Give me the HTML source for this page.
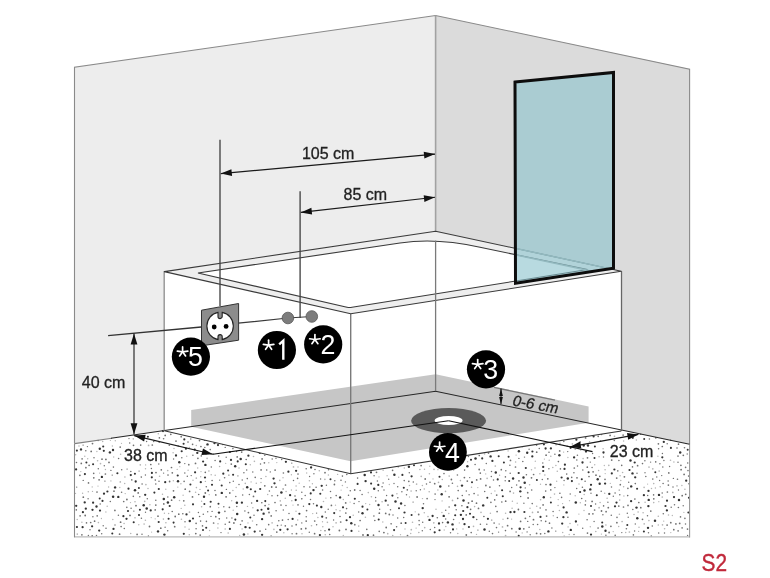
<!DOCTYPE html>
<html><head><meta charset="utf-8"><style>
html,body{margin:0;padding:0;background:#fff;overflow:hidden;}
svg{display:block;will-change:transform;font-family:"Liberation Sans",sans-serif;}
</style></head><body>
<svg width="770" height="578" viewBox="0 0 770 578">
<polygon points="74.5,67.3 435.6,15.5 435.6,391.2 74.5,443.6" fill="#ededed"/>
<polygon points="435.6,15.5 689.6,69.1 689.6,444.2 435.6,391.2" fill="#dbdbdb"/>
<polyline points="74.5,443.6 74.5,67.3 435.6,15.5 689.6,69.1 689.6,444.2" fill="none" stroke="#8a8a8a" stroke-width="1.1"/>
<line x1="435.6" y1="15.5" x2="435.6" y2="231.2" stroke="#a2a2a2" stroke-width="1.6"/>
<polygon points="74.5,443.6 435.6,391.2 689.6,444.2 689.6,536.9 74.5,536.9" fill="#fff"/>
<circle cx="387.1" cy="475.8" r="0.71" fill="#b4b4b4"/><circle cx="188.8" cy="464.7" r="0.85" fill="#707070"/><circle cx="461.9" cy="505.8" r="0.77" fill="#707070"/><circle cx="131.1" cy="508.2" r="0.80" fill="#707070"/><circle cx="678.1" cy="530.9" r="0.81" fill="#707070"/><circle cx="476.7" cy="479.9" r="0.87" fill="#707070"/><circle cx="94.0" cy="457.7" r="0.77" fill="#707070"/><circle cx="345.8" cy="513.0" r="0.87" fill="#707070"/><circle cx="394.0" cy="483.5" r="0.70" fill="#707070"/><circle cx="382.1" cy="486.7" r="0.76" fill="#707070"/><circle cx="687.6" cy="535.4" r="0.70" fill="#707070"/><circle cx="591.0" cy="493.3" r="0.71" fill="#707070"/><circle cx="545.6" cy="448.5" r="1.13" fill="#333"/><circle cx="594.9" cy="446.4" r="1.00" fill="#333"/><circle cx="663.3" cy="513.7" r="0.80" fill="#707070"/><circle cx="677.0" cy="448.0" r="0.82" fill="#707070"/><circle cx="120.3" cy="481.9" r="0.84" fill="#b4b4b4"/><circle cx="129.0" cy="438.6" r="0.71" fill="#707070"/><circle cx="667.0" cy="500.7" r="1.10" fill="#333"/><circle cx="192.5" cy="496.9" r="0.90" fill="#707070"/><circle cx="155.8" cy="484.0" r="0.78" fill="#707070"/><circle cx="671.2" cy="507.3" r="0.77" fill="#707070"/><circle cx="262.1" cy="519.2" r="1.16" fill="#333"/><circle cx="204.8" cy="447.6" r="0.74" fill="#707070"/><circle cx="599.7" cy="483.7" r="1.18" fill="#333"/><circle cx="137.1" cy="534.4" r="0.85" fill="#707070"/><circle cx="130.8" cy="475.1" r="1.13" fill="#333"/><circle cx="224.6" cy="477.8" r="0.82" fill="#707070"/><circle cx="663.9" cy="460.6" r="0.73" fill="#707070"/><circle cx="428.0" cy="516.5" r="0.84" fill="#b4b4b4"/><circle cx="632.8" cy="509.4" r="0.75" fill="#707070"/><circle cx="529.1" cy="527.3" r="0.77" fill="#707070"/><circle cx="196.1" cy="528.7" r="0.78" fill="#707070"/><circle cx="616.7" cy="478.1" r="0.90" fill="#707070"/><circle cx="99.2" cy="530.6" r="1.11" fill="#333"/><circle cx="221.8" cy="492.9" r="1.21" fill="#333"/><circle cx="233.2" cy="510.3" r="0.70" fill="#b4b4b4"/><circle cx="183.1" cy="495.2" r="0.68" fill="#b4b4b4"/><circle cx="418.7" cy="514.5" r="0.90" fill="#707070"/><circle cx="183.6" cy="443.8" r="1.04" fill="#333"/><circle cx="297.7" cy="520.1" r="0.77" fill="#b4b4b4"/><circle cx="677.0" cy="485.9" r="0.80" fill="#b4b4b4"/><circle cx="499.6" cy="475.3" r="0.72" fill="#b4b4b4"/><circle cx="86.5" cy="522.9" r="0.81" fill="#707070"/><circle cx="505.5" cy="530.6" r="0.79" fill="#707070"/><circle cx="88.5" cy="482.9" r="0.84" fill="#707070"/><circle cx="371.4" cy="496.7" r="0.82" fill="#b4b4b4"/><circle cx="271.1" cy="535.9" r="0.71" fill="#707070"/><circle cx="121.7" cy="469.7" r="0.76" fill="#707070"/><circle cx="527.7" cy="521.4" r="0.72" fill="#707070"/><circle cx="527.7" cy="492.7" r="0.85" fill="#707070"/><circle cx="562.2" cy="523.6" r="1.15" fill="#333"/><circle cx="291.4" cy="490.0" r="0.72" fill="#b4b4b4"/><circle cx="628.2" cy="517.2" r="0.71" fill="#707070"/><circle cx="331.4" cy="505.4" r="0.85" fill="#707070"/><circle cx="605.2" cy="473.6" r="0.67" fill="#b4b4b4"/><circle cx="433.0" cy="478.9" r="0.67" fill="#b4b4b4"/><circle cx="124.7" cy="483.4" r="0.75" fill="#b4b4b4"/><circle cx="684.9" cy="518.4" r="0.79" fill="#707070"/><circle cx="522.3" cy="446.7" r="0.72" fill="#b4b4b4"/><circle cx="526.4" cy="474.8" r="0.80" fill="#707070"/><circle cx="126.9" cy="499.5" r="0.89" fill="#707070"/><circle cx="93.8" cy="477.8" r="0.86" fill="#707070"/><circle cx="503.9" cy="462.6" r="1.02" fill="#333"/><circle cx="452.5" cy="524.4" r="1.22" fill="#333"/><circle cx="260.2" cy="489.0" r="1.11" fill="#333"/><circle cx="631.2" cy="486.4" r="1.20" fill="#333"/><circle cx="346.6" cy="520.2" r="1.07" fill="#333"/><circle cx="276.1" cy="487.2" r="0.84" fill="#707070"/><circle cx="197.3" cy="452.9" r="1.16" fill="#333"/><circle cx="570.0" cy="523.5" r="0.82" fill="#b4b4b4"/><circle cx="589.1" cy="513.9" r="0.89" fill="#707070"/><circle cx="511.8" cy="528.7" r="0.89" fill="#707070"/><circle cx="459.4" cy="462.1" r="0.82" fill="#707070"/><circle cx="269.0" cy="512.5" r="0.88" fill="#707070"/><circle cx="678.0" cy="456.1" r="0.84" fill="#707070"/><circle cx="510.2" cy="473.3" r="0.76" fill="#707070"/><circle cx="265.1" cy="505.6" r="0.90" fill="#707070"/><circle cx="462.0" cy="485.6" r="1.18" fill="#333"/><circle cx="570.8" cy="529.9" r="1.18" fill="#333"/><circle cx="82.1" cy="458.9" r="0.78" fill="#707070"/><circle cx="452.5" cy="500.4" r="0.85" fill="#b4b4b4"/><circle cx="316.9" cy="505.6" r="1.06" fill="#333"/><circle cx="647.7" cy="495.5" r="0.75" fill="#707070"/><circle cx="459.3" cy="522.9" r="0.69" fill="#b4b4b4"/><circle cx="306.7" cy="473.0" r="0.68" fill="#b4b4b4"/><circle cx="615.0" cy="506.3" r="1.11" fill="#333"/><circle cx="518.4" cy="509.5" r="0.88" fill="#707070"/><circle cx="469.1" cy="494.8" r="0.72" fill="#707070"/><circle cx="206.4" cy="521.4" r="0.80" fill="#707070"/><circle cx="404.9" cy="505.5" r="0.79" fill="#707070"/><circle cx="272.1" cy="522.9" r="0.80" fill="#b4b4b4"/><circle cx="600.5" cy="440.9" r="0.75" fill="#707070"/><circle cx="413.1" cy="502.2" r="0.83" fill="#b4b4b4"/><circle cx="281.0" cy="505.0" r="0.85" fill="#707070"/><circle cx="392.4" cy="495.6" r="1.10" fill="#333"/><circle cx="655.7" cy="461.9" r="0.82" fill="#707070"/><circle cx="211.3" cy="466.9" r="0.76" fill="#707070"/><circle cx="253.5" cy="496.4" r="0.86" fill="#707070"/><circle cx="467.4" cy="466.3" r="1.20" fill="#333"/><circle cx="593.1" cy="471.8" r="0.85" fill="#707070"/><circle cx="594.1" cy="521.5" r="0.74" fill="#707070"/><circle cx="203.3" cy="514.2" r="0.78" fill="#707070"/><circle cx="669.6" cy="466.5" r="0.74" fill="#707070"/><circle cx="321.3" cy="507.0" r="1.18" fill="#333"/><circle cx="662.5" cy="524.8" r="0.84" fill="#b4b4b4"/><circle cx="240.7" cy="459.1" r="1.24" fill="#333"/><circle cx="575.9" cy="521.5" r="1.16" fill="#333"/><circle cx="193.0" cy="480.2" r="0.72" fill="#b4b4b4"/><circle cx="293.5" cy="480.5" r="0.73" fill="#707070"/><circle cx="139.8" cy="496.7" r="0.73" fill="#707070"/><circle cx="150.8" cy="464.5" r="0.85" fill="#707070"/><circle cx="200.8" cy="482.2" r="1.13" fill="#333"/><circle cx="597.7" cy="479.3" r="1.20" fill="#333"/><circle cx="530.0" cy="508.3" r="0.76" fill="#b4b4b4"/><circle cx="629.3" cy="436.1" r="1.08" fill="#333"/><circle cx="268.7" cy="524.7" r="0.83" fill="#707070"/><circle cx="209.3" cy="535.8" r="0.67" fill="#b4b4b4"/><circle cx="586.0" cy="451.6" r="1.16" fill="#333"/><circle cx="322.6" cy="490.0" r="0.77" fill="#707070"/><circle cx="494.1" cy="523.1" r="0.83" fill="#707070"/><circle cx="385.7" cy="500.7" r="1.16" fill="#333"/><circle cx="384.0" cy="490.1" r="0.73" fill="#707070"/><circle cx="414.0" cy="465.2" r="1.01" fill="#333"/><circle cx="591.0" cy="534.6" r="1.12" fill="#333"/><circle cx="113.5" cy="528.9" r="1.13" fill="#333"/><circle cx="359.0" cy="501.6" r="0.72" fill="#707070"/><circle cx="276.0" cy="458.2" r="0.71" fill="#707070"/><circle cx="505.6" cy="513.3" r="0.79" fill="#b4b4b4"/><circle cx="186.7" cy="456.3" r="0.71" fill="#b4b4b4"/><circle cx="529.1" cy="449.2" r="0.72" fill="#707070"/><circle cx="623.5" cy="507.0" r="0.85" fill="#707070"/><circle cx="443.4" cy="463.6" r="1.16" fill="#333"/><circle cx="678.4" cy="507.5" r="0.81" fill="#707070"/><circle cx="233.9" cy="523.0" r="0.88" fill="#707070"/><circle cx="532.2" cy="503.6" r="0.79" fill="#707070"/><circle cx="575.3" cy="449.2" r="0.85" fill="#b4b4b4"/><circle cx="501.8" cy="502.0" r="0.83" fill="#707070"/><circle cx="467.3" cy="481.1" r="0.88" fill="#707070"/><circle cx="217.9" cy="527.9" r="0.76" fill="#b4b4b4"/><circle cx="480.3" cy="473.2" r="0.83" fill="#707070"/><circle cx="688.9" cy="483.8" r="0.78" fill="#707070"/><circle cx="505.7" cy="501.2" r="0.87" fill="#707070"/><circle cx="232.9" cy="448.6" r="0.80" fill="#707070"/><circle cx="229.4" cy="522.2" r="0.86" fill="#707070"/><circle cx="668.8" cy="472.9" r="0.87" fill="#707070"/><circle cx="442.1" cy="500.9" r="0.67" fill="#b4b4b4"/><circle cx="103.2" cy="525.8" r="0.72" fill="#707070"/><circle cx="173.6" cy="458.9" r="0.73" fill="#707070"/><circle cx="179.3" cy="462.3" r="1.22" fill="#333"/><circle cx="398.7" cy="477.3" r="0.70" fill="#b4b4b4"/><circle cx="249.4" cy="494.6" r="0.76" fill="#707070"/><circle cx="171.6" cy="500.2" r="0.86" fill="#707070"/><circle cx="314.7" cy="521.0" r="0.85" fill="#707070"/><circle cx="682.1" cy="527.9" r="0.81" fill="#707070"/><circle cx="120.6" cy="522.2" r="0.89" fill="#707070"/><circle cx="396.6" cy="526.8" r="0.81" fill="#707070"/><circle cx="518.9" cy="458.4" r="0.70" fill="#707070"/><circle cx="347.2" cy="487.5" r="0.75" fill="#b4b4b4"/><circle cx="552.8" cy="467.5" r="0.80" fill="#b4b4b4"/><circle cx="687.5" cy="529.1" r="0.85" fill="#707070"/><circle cx="145.4" cy="520.3" r="0.80" fill="#b4b4b4"/><circle cx="556.7" cy="481.2" r="0.69" fill="#b4b4b4"/><circle cx="495.8" cy="472.5" r="1.20" fill="#333"/><circle cx="438.5" cy="482.4" r="0.82" fill="#b4b4b4"/><circle cx="228.2" cy="533.0" r="0.83" fill="#b4b4b4"/><circle cx="637.3" cy="518.3" r="1.22" fill="#333"/><circle cx="241.7" cy="452.1" r="0.86" fill="#707070"/><circle cx="128.5" cy="488.7" r="1.10" fill="#333"/><circle cx="413.3" cy="482.1" r="0.77" fill="#707070"/><circle cx="204.7" cy="440.2" r="0.88" fill="#707070"/><circle cx="532.5" cy="512.4" r="0.84" fill="#b4b4b4"/><circle cx="571.9" cy="481.1" r="1.08" fill="#333"/><circle cx="572.4" cy="443.9" r="0.85" fill="#b4b4b4"/><circle cx="476.5" cy="534.4" r="0.69" fill="#b4b4b4"/><circle cx="275.1" cy="470.1" r="0.90" fill="#707070"/><circle cx="533.2" cy="524.4" r="0.77" fill="#707070"/><circle cx="135.0" cy="517.8" r="0.83" fill="#b4b4b4"/><circle cx="206.3" cy="486.7" r="0.78" fill="#707070"/><circle cx="520.3" cy="491.3" r="1.17" fill="#333"/><circle cx="295.0" cy="496.0" r="0.81" fill="#707070"/><circle cx="639.0" cy="527.2" r="0.74" fill="#b4b4b4"/><circle cx="648.9" cy="520.6" r="0.78" fill="#b4b4b4"/><circle cx="195.1" cy="472.3" r="1.09" fill="#333"/><circle cx="564.5" cy="468.9" r="1.11" fill="#333"/><circle cx="588.6" cy="472.2" r="1.04" fill="#333"/><circle cx="183.8" cy="500.8" r="0.86" fill="#707070"/><circle cx="89.1" cy="465.3" r="0.88" fill="#707070"/><circle cx="409.3" cy="472.8" r="0.76" fill="#707070"/><circle cx="668.4" cy="485.1" r="0.87" fill="#707070"/><circle cx="163.8" cy="498.9" r="1.25" fill="#333"/><circle cx="210.7" cy="501.7" r="1.07" fill="#333"/><circle cx="395.5" cy="501.6" r="1.23" fill="#333"/><circle cx="582.4" cy="487.3" r="0.80" fill="#707070"/><circle cx="599.1" cy="507.7" r="0.85" fill="#b4b4b4"/><circle cx="587.1" cy="519.7" r="0.80" fill="#707070"/><circle cx="663.1" cy="483.5" r="0.80" fill="#707070"/><circle cx="396.9" cy="493.7" r="0.79" fill="#b4b4b4"/><circle cx="567.7" cy="451.6" r="0.72" fill="#707070"/><circle cx="530.2" cy="534.7" r="0.71" fill="#707070"/><circle cx="254.7" cy="531.6" r="1.11" fill="#333"/><circle cx="145.9" cy="484.6" r="0.84" fill="#b4b4b4"/><circle cx="113.7" cy="457.0" r="0.66" fill="#b4b4b4"/><circle cx="433.8" cy="522.8" r="0.85" fill="#b4b4b4"/><circle cx="266.7" cy="470.0" r="0.79" fill="#707070"/><circle cx="576.8" cy="460.0" r="0.75" fill="#707070"/><circle cx="235.3" cy="519.6" r="1.04" fill="#333"/><circle cx="636.4" cy="439.9" r="0.75" fill="#b4b4b4"/><circle cx="411.3" cy="529.7" r="0.84" fill="#b4b4b4"/><circle cx="106.0" cy="528.3" r="0.81" fill="#707070"/><circle cx="567.2" cy="446.2" r="0.71" fill="#707070"/><circle cx="243.9" cy="534.6" r="1.25" fill="#333"/><circle cx="303.5" cy="506.3" r="0.71" fill="#707070"/><circle cx="513.1" cy="478.5" r="1.19" fill="#333"/><circle cx="608.8" cy="465.4" r="0.82" fill="#b4b4b4"/><circle cx="466.3" cy="535.0" r="0.88" fill="#707070"/><circle cx="239.0" cy="468.0" r="0.76" fill="#b4b4b4"/><circle cx="167.9" cy="502.5" r="1.24" fill="#333"/><circle cx="76.3" cy="509.9" r="0.81" fill="#707070"/><circle cx="594.6" cy="510.0" r="0.86" fill="#707070"/><circle cx="661.7" cy="475.6" r="0.72" fill="#707070"/><circle cx="601.5" cy="434.3" r="0.84" fill="#707070"/><circle cx="559.7" cy="450.9" r="0.87" fill="#707070"/><circle cx="408.9" cy="466.7" r="1.22" fill="#333"/><circle cx="172.2" cy="511.5" r="0.79" fill="#707070"/><circle cx="362.1" cy="494.4" r="0.76" fill="#707070"/><circle cx="296.2" cy="490.3" r="0.82" fill="#b4b4b4"/><circle cx="358.8" cy="531.2" r="0.69" fill="#b4b4b4"/><circle cx="83.1" cy="445.1" r="0.71" fill="#707070"/><circle cx="81.9" cy="534.8" r="0.84" fill="#707070"/><circle cx="306.2" cy="468.8" r="0.81" fill="#707070"/><circle cx="316.1" cy="487.3" r="0.82" fill="#707070"/><circle cx="655.3" cy="472.2" r="1.01" fill="#333"/><circle cx="491.3" cy="493.4" r="0.74" fill="#b4b4b4"/><circle cx="185.9" cy="448.7" r="1.10" fill="#333"/><circle cx="589.0" cy="476.5" r="0.84" fill="#707070"/><circle cx="389.3" cy="484.5" r="0.66" fill="#b4b4b4"/><circle cx="546.0" cy="509.9" r="0.78" fill="#707070"/><circle cx="480.6" cy="478.9" r="0.88" fill="#707070"/><circle cx="285.5" cy="485.0" r="0.85" fill="#707070"/><circle cx="140.7" cy="445.1" r="0.84" fill="#707070"/><circle cx="388.0" cy="505.1" r="0.81" fill="#707070"/><circle cx="581.8" cy="479.3" r="1.03" fill="#333"/><circle cx="629.5" cy="470.0" r="1.07" fill="#333"/><circle cx="291.8" cy="463.1" r="0.72" fill="#707070"/><circle cx="162.5" cy="494.2" r="0.77" fill="#b4b4b4"/><circle cx="680.9" cy="465.3" r="0.86" fill="#707070"/><circle cx="514.4" cy="512.0" r="1.16" fill="#333"/><circle cx="429.2" cy="491.8" r="0.81" fill="#b4b4b4"/><circle cx="277.5" cy="525.6" r="0.82" fill="#707070"/><circle cx="151.6" cy="532.1" r="0.66" fill="#b4b4b4"/><circle cx="158.7" cy="522.0" r="1.08" fill="#333"/><circle cx="633.4" cy="534.9" r="0.81" fill="#707070"/><circle cx="577.0" cy="477.8" r="0.88" fill="#707070"/><circle cx="150.7" cy="510.4" r="1.11" fill="#333"/><circle cx="252.5" cy="521.0" r="0.75" fill="#b4b4b4"/><circle cx="223.3" cy="473.7" r="1.10" fill="#333"/><circle cx="487.3" cy="497.7" r="1.00" fill="#333"/><circle cx="309.6" cy="476.4" r="0.73" fill="#707070"/><circle cx="197.9" cy="458.3" r="0.87" fill="#707070"/><circle cx="458.2" cy="490.6" r="0.82" fill="#707070"/><circle cx="540.6" cy="499.8" r="0.77" fill="#b4b4b4"/><circle cx="373.5" cy="535.2" r="0.85" fill="#707070"/><circle cx="422.7" cy="522.2" r="0.75" fill="#707070"/><circle cx="398.2" cy="466.7" r="0.81" fill="#707070"/><circle cx="340.7" cy="522.0" r="0.86" fill="#707070"/><circle cx="520.6" cy="521.4" r="0.84" fill="#707070"/><circle cx="107.4" cy="491.5" r="1.11" fill="#333"/><circle cx="634.6" cy="531.1" r="0.74" fill="#707070"/><circle cx="483.9" cy="516.5" r="0.83" fill="#707070"/><circle cx="136.0" cy="505.7" r="0.89" fill="#707070"/><circle cx="151.4" cy="468.5" r="0.74" fill="#707070"/><circle cx="94.6" cy="521.2" r="0.86" fill="#707070"/><circle cx="264.4" cy="462.8" r="0.88" fill="#707070"/><circle cx="648.5" cy="532.7" r="0.72" fill="#707070"/><circle cx="256.7" cy="524.7" r="0.82" fill="#707070"/><circle cx="589.6" cy="441.7" r="0.68" fill="#b4b4b4"/><circle cx="615.2" cy="535.3" r="0.83" fill="#707070"/><circle cx="193.0" cy="518.5" r="1.08" fill="#333"/><circle cx="502.5" cy="526.9" r="0.85" fill="#b4b4b4"/><circle cx="483.2" cy="505.4" r="1.22" fill="#333"/><circle cx="304.0" cy="486.7" r="0.82" fill="#707070"/><circle cx="644.1" cy="487.4" r="0.80" fill="#b4b4b4"/><circle cx="245.3" cy="483.4" r="0.79" fill="#b4b4b4"/><circle cx="130.7" cy="533.5" r="0.78" fill="#b4b4b4"/><circle cx="229.4" cy="507.3" r="0.87" fill="#707070"/><circle cx="246.7" cy="470.0" r="0.75" fill="#707070"/><circle cx="189.8" cy="521.0" r="1.21" fill="#333"/><circle cx="311.5" cy="525.7" r="0.80" fill="#b4b4b4"/><circle cx="416.6" cy="484.2" r="0.83" fill="#b4b4b4"/><circle cx="296.1" cy="486.1" r="0.77" fill="#b4b4b4"/><circle cx="555.9" cy="465.4" r="0.76" fill="#b4b4b4"/><circle cx="385.7" cy="513.4" r="0.87" fill="#707070"/><circle cx="495.3" cy="466.0" r="0.84" fill="#b4b4b4"/><circle cx="345.7" cy="502.9" r="0.86" fill="#707070"/><circle cx="558.1" cy="505.5" r="0.80" fill="#b4b4b4"/><circle cx="220.2" cy="461.4" r="1.06" fill="#333"/><circle cx="211.2" cy="474.7" r="0.75" fill="#b4b4b4"/><circle cx="441.7" cy="494.3" r="1.22" fill="#333"/><circle cx="86.4" cy="462.4" r="1.01" fill="#333"/><circle cx="236.8" cy="506.6" r="0.76" fill="#707070"/><circle cx="424.5" cy="469.3" r="0.72" fill="#b4b4b4"/><circle cx="165.2" cy="435.4" r="0.88" fill="#707070"/><circle cx="456.6" cy="466.7" r="1.04" fill="#333"/><circle cx="237.9" cy="475.9" r="0.83" fill="#b4b4b4"/><circle cx="173.5" cy="490.8" r="0.89" fill="#707070"/><circle cx="585.3" cy="504.9" r="0.83" fill="#707070"/><circle cx="113.0" cy="450.0" r="1.19" fill="#333"/><circle cx="375.8" cy="501.1" r="0.73" fill="#707070"/><circle cx="354.8" cy="498.8" r="1.06" fill="#333"/><circle cx="96.5" cy="535.4" r="0.72" fill="#707070"/><circle cx="543.8" cy="497.2" r="1.19" fill="#333"/><circle cx="358.7" cy="526.1" r="0.82" fill="#b4b4b4"/><circle cx="677.5" cy="479.2" r="0.82" fill="#707070"/><circle cx="99.8" cy="448.8" r="1.20" fill="#333"/><circle cx="286.1" cy="491.4" r="0.77" fill="#b4b4b4"/><circle cx="316.6" cy="513.1" r="0.71" fill="#707070"/><circle cx="309.3" cy="504.1" r="1.09" fill="#333"/><circle cx="188.1" cy="470.2" r="0.72" fill="#b4b4b4"/><circle cx="207.1" cy="458.3" r="0.84" fill="#b4b4b4"/><circle cx="264.8" cy="455.3" r="0.79" fill="#707070"/><circle cx="684.9" cy="489.2" r="0.78" fill="#b4b4b4"/><circle cx="316.6" cy="524.8" r="0.75" fill="#707070"/><circle cx="126.5" cy="518.8" r="1.14" fill="#333"/><circle cx="275.0" cy="502.5" r="0.84" fill="#707070"/><circle cx="520.6" cy="487.3" r="1.11" fill="#333"/><circle cx="422.7" cy="508.1" r="1.17" fill="#333"/><circle cx="486.8" cy="524.2" r="0.76" fill="#707070"/><circle cx="208.1" cy="490.6" r="1.01" fill="#333"/><circle cx="484.5" cy="529.5" r="1.24" fill="#333"/><circle cx="112.4" cy="446.0" r="0.74" fill="#b4b4b4"/><circle cx="276.8" cy="462.6" r="0.68" fill="#b4b4b4"/><circle cx="177.8" cy="487.1" r="0.69" fill="#b4b4b4"/><circle cx="168.0" cy="475.1" r="0.81" fill="#707070"/><circle cx="505.8" cy="470.8" r="0.74" fill="#707070"/><circle cx="109.0" cy="462.4" r="0.90" fill="#707070"/><circle cx="622.6" cy="472.6" r="0.77" fill="#b4b4b4"/><circle cx="236.2" cy="487.5" r="0.70" fill="#b4b4b4"/><circle cx="453.0" cy="529.4" r="1.06" fill="#333"/><circle cx="298.0" cy="474.1" r="0.82" fill="#707070"/><circle cx="653.7" cy="502.6" r="0.79" fill="#b4b4b4"/><circle cx="460.4" cy="480.6" r="0.78" fill="#b4b4b4"/><circle cx="244.9" cy="511.1" r="0.74" fill="#707070"/><circle cx="158.8" cy="464.0" r="0.73" fill="#707070"/><circle cx="76.1" cy="469.4" r="1.13" fill="#333"/><circle cx="378.3" cy="484.9" r="1.12" fill="#333"/><circle cx="288.2" cy="519.4" r="0.75" fill="#707070"/><circle cx="267.7" cy="494.5" r="0.75" fill="#b4b4b4"/><circle cx="502.1" cy="490.2" r="1.03" fill="#333"/><circle cx="666.9" cy="510.4" r="1.15" fill="#333"/><circle cx="173.3" cy="480.8" r="0.68" fill="#b4b4b4"/><circle cx="376.5" cy="472.3" r="0.87" fill="#707070"/><circle cx="535.0" cy="468.0" r="0.80" fill="#b4b4b4"/><circle cx="138.2" cy="492.9" r="0.90" fill="#707070"/><circle cx="549.2" cy="460.2" r="0.69" fill="#b4b4b4"/><circle cx="175.2" cy="516.5" r="0.89" fill="#707070"/><circle cx="231.3" cy="464.1" r="0.87" fill="#707070"/><circle cx="280.3" cy="500.9" r="0.78" fill="#b4b4b4"/><circle cx="509.2" cy="481.0" r="1.00" fill="#333"/><circle cx="152.3" cy="445.0" r="0.86" fill="#707070"/><circle cx="434.7" cy="527.4" r="0.74" fill="#707070"/><circle cx="497.3" cy="451.2" r="0.77" fill="#b4b4b4"/><circle cx="566.6" cy="512.4" r="1.20" fill="#333"/><circle cx="501.3" cy="469.7" r="0.84" fill="#707070"/><circle cx="215.1" cy="460.4" r="0.76" fill="#707070"/><circle cx="623.1" cy="435.2" r="0.83" fill="#707070"/><circle cx="199.6" cy="516.6" r="0.77" fill="#707070"/><circle cx="570.6" cy="447.8" r="1.09" fill="#333"/><circle cx="110.9" cy="470.4" r="0.72" fill="#707070"/><circle cx="245.5" cy="527.1" r="1.22" fill="#333"/><circle cx="605.9" cy="535.2" r="0.78" fill="#707070"/><circle cx="295.7" cy="500.0" r="1.13" fill="#333"/><circle cx="399.0" cy="508.3" r="1.01" fill="#333"/><circle cx="561.6" cy="497.4" r="0.80" fill="#707070"/><circle cx="658.6" cy="448.7" r="0.78" fill="#707070"/><circle cx="478.5" cy="508.4" r="0.87" fill="#707070"/><circle cx="299.2" cy="483.2" r="0.67" fill="#b4b4b4"/><circle cx="133.3" cy="438.9" r="0.79" fill="#b4b4b4"/><circle cx="531.5" cy="469.8" r="0.76" fill="#b4b4b4"/><circle cx="81.3" cy="463.4" r="0.87" fill="#707070"/><circle cx="405.0" cy="529.0" r="0.70" fill="#b4b4b4"/><circle cx="142.0" cy="534.2" r="0.73" fill="#707070"/><circle cx="339.4" cy="530.5" r="0.90" fill="#707070"/><circle cx="210.2" cy="449.6" r="0.80" fill="#707070"/><circle cx="243.2" cy="488.9" r="0.73" fill="#b4b4b4"/><circle cx="188.0" cy="442.1" r="0.80" fill="#707070"/><circle cx="453.6" cy="519.6" r="0.76" fill="#707070"/><circle cx="145.5" cy="512.3" r="0.70" fill="#707070"/><circle cx="498.7" cy="456.2" r="1.02" fill="#333"/><circle cx="444.0" cy="473.6" r="0.79" fill="#707070"/><circle cx="439.5" cy="476.8" r="1.00" fill="#333"/><circle cx="363.0" cy="535.0" r="0.90" fill="#707070"/><circle cx="322.2" cy="516.7" r="1.11" fill="#333"/><circle cx="591.0" cy="484.8" r="1.14" fill="#333"/><circle cx="650.8" cy="511.1" r="0.87" fill="#707070"/><circle cx="564.9" cy="464.7" r="1.11" fill="#333"/><circle cx="609.3" cy="493.9" r="1.15" fill="#333"/><circle cx="558.4" cy="461.6" r="0.83" fill="#707070"/><circle cx="223.8" cy="506.8" r="0.75" fill="#707070"/><circle cx="600.1" cy="502.5" r="0.81" fill="#b4b4b4"/><circle cx="412.5" cy="522.2" r="0.80" fill="#b4b4b4"/><circle cx="98.1" cy="440.5" r="0.78" fill="#707070"/><circle cx="606.1" cy="511.7" r="0.85" fill="#707070"/><circle cx="119.6" cy="534.2" r="0.89" fill="#707070"/><circle cx="613.3" cy="496.2" r="0.70" fill="#707070"/><circle cx="196.4" cy="487.6" r="0.78" fill="#b4b4b4"/><circle cx="445.5" cy="491.4" r="0.80" fill="#b4b4b4"/><circle cx="652.8" cy="479.1" r="0.80" fill="#707070"/><circle cx="165.2" cy="482.2" r="1.11" fill="#333"/><circle cx="336.1" cy="509.7" r="0.73" fill="#b4b4b4"/><circle cx="386.2" cy="527.5" r="0.89" fill="#707070"/><circle cx="250.3" cy="517.4" r="1.02" fill="#333"/><circle cx="490.6" cy="456.4" r="1.17" fill="#333"/><circle cx="531.5" cy="477.8" r="0.88" fill="#707070"/><circle cx="346.0" cy="529.4" r="0.89" fill="#707070"/><circle cx="255.2" cy="491.5" r="1.04" fill="#333"/><circle cx="578.9" cy="514.1" r="0.72" fill="#b4b4b4"/><circle cx="437.9" cy="469.7" r="0.67" fill="#b4b4b4"/><circle cx="129.7" cy="443.1" r="0.73" fill="#707070"/><circle cx="305.2" cy="495.6" r="0.74" fill="#707070"/><circle cx="626.4" cy="528.7" r="0.82" fill="#707070"/><circle cx="487.1" cy="478.4" r="0.81" fill="#b4b4b4"/><circle cx="670.8" cy="532.6" r="0.65" fill="#b4b4b4"/><circle cx="684.5" cy="447.7" r="0.81" fill="#707070"/><circle cx="505.6" cy="535.7" r="0.84" fill="#b4b4b4"/><circle cx="321.7" cy="485.8" r="1.16" fill="#333"/><circle cx="457.7" cy="498.3" r="0.84" fill="#707070"/><circle cx="523.9" cy="503.3" r="0.72" fill="#707070"/><circle cx="85.2" cy="515.5" r="0.89" fill="#707070"/><circle cx="655.0" cy="520.8" r="1.24" fill="#333"/><circle cx="404.3" cy="467.9" r="0.75" fill="#b4b4b4"/><circle cx="143.7" cy="505.2" r="1.23" fill="#333"/><circle cx="260.5" cy="464.1" r="0.74" fill="#707070"/><circle cx="151.9" cy="472.9" r="1.09" fill="#333"/><circle cx="324.9" cy="479.4" r="0.83" fill="#b4b4b4"/><circle cx="605.5" cy="530.7" r="1.18" fill="#333"/><circle cx="171.5" cy="467.5" r="0.86" fill="#707070"/><circle cx="260.0" cy="531.1" r="0.88" fill="#707070"/><circle cx="470.0" cy="513.8" r="1.05" fill="#333"/><circle cx="103.8" cy="450.8" r="1.08" fill="#333"/><circle cx="144.1" cy="524.1" r="0.79" fill="#b4b4b4"/><circle cx="476.7" cy="519.5" r="0.78" fill="#707070"/><circle cx="382.8" cy="522.0" r="0.73" fill="#b4b4b4"/><circle cx="105.9" cy="512.0" r="0.68" fill="#b4b4b4"/><circle cx="113.4" cy="467.1" r="0.78" fill="#707070"/><circle cx="535.3" cy="461.2" r="0.68" fill="#b4b4b4"/><circle cx="81.0" cy="449.4" r="1.17" fill="#333"/><circle cx="439.5" cy="530.3" r="1.07" fill="#333"/><circle cx="449.2" cy="476.1" r="0.81" fill="#b4b4b4"/><circle cx="268.8" cy="462.7" r="0.70" fill="#b4b4b4"/><circle cx="563.6" cy="452.1" r="0.71" fill="#b4b4b4"/><circle cx="603.1" cy="448.7" r="0.80" fill="#b4b4b4"/><circle cx="250.8" cy="489.3" r="1.07" fill="#333"/><circle cx="585.6" cy="437.9" r="0.89" fill="#707070"/><circle cx="110.3" cy="501.5" r="0.76" fill="#707070"/><circle cx="104.9" cy="481.2" r="0.84" fill="#b4b4b4"/><circle cx="648.7" cy="499.9" r="1.22" fill="#333"/><circle cx="492.5" cy="533.6" r="0.80" fill="#707070"/><circle cx="554.9" cy="454.3" r="0.76" fill="#707070"/><circle cx="536.6" cy="445.2" r="0.75" fill="#707070"/><circle cx="147.9" cy="436.7" r="1.02" fill="#333"/><circle cx="484.2" cy="470.0" r="0.73" fill="#707070"/><circle cx="265.7" cy="529.3" r="0.73" fill="#707070"/><circle cx="419.2" cy="524.7" r="0.76" fill="#707070"/><circle cx="404.5" cy="512.5" r="1.12" fill="#333"/><circle cx="151.2" cy="517.6" r="0.70" fill="#b4b4b4"/><circle cx="378.3" cy="490.7" r="0.76" fill="#707070"/><circle cx="313.5" cy="503.7" r="0.74" fill="#707070"/><circle cx="177.7" cy="475.5" r="1.09" fill="#333"/><circle cx="199.5" cy="440.6" r="0.85" fill="#707070"/><circle cx="176.0" cy="441.1" r="0.86" fill="#707070"/><circle cx="438.3" cy="465.9" r="1.15" fill="#333"/><circle cx="313.9" cy="473.8" r="0.73" fill="#707070"/><circle cx="235.8" cy="496.6" r="0.76" fill="#707070"/><circle cx="114.9" cy="510.4" r="0.85" fill="#707070"/><circle cx="341.0" cy="480.2" r="0.82" fill="#707070"/><circle cx="418.8" cy="532.5" r="0.83" fill="#b4b4b4"/><circle cx="263.6" cy="513.7" r="1.17" fill="#333"/><circle cx="97.0" cy="492.0" r="0.87" fill="#707070"/><circle cx="658.8" cy="501.7" r="0.66" fill="#b4b4b4"/><circle cx="197.7" cy="468.1" r="0.76" fill="#b4b4b4"/><circle cx="544.8" cy="475.0" r="0.83" fill="#b4b4b4"/><circle cx="627.3" cy="524.9" r="1.02" fill="#333"/><circle cx="659.0" cy="494.9" r="1.21" fill="#333"/><circle cx="254.0" cy="515.2" r="0.75" fill="#707070"/><circle cx="245.8" cy="464.3" r="1.05" fill="#333"/><circle cx="602.9" cy="514.8" r="0.74" fill="#707070"/><circle cx="449.4" cy="469.4" r="0.84" fill="#707070"/><circle cx="525.8" cy="468.0" r="1.07" fill="#333"/><circle cx="480.4" cy="524.2" r="0.79" fill="#707070"/><circle cx="298.0" cy="504.9" r="0.81" fill="#707070"/><circle cx="218.7" cy="456.1" r="0.80" fill="#707070"/><circle cx="93.7" cy="473.4" r="0.80" fill="#707070"/><circle cx="678.5" cy="490.0" r="0.71" fill="#707070"/><circle cx="508.1" cy="450.9" r="0.71" fill="#b4b4b4"/><circle cx="158.3" cy="433.8" r="0.77" fill="#b4b4b4"/><circle cx="281.4" cy="492.5" r="1.25" fill="#333"/><circle cx="658.3" cy="525.1" r="0.77" fill="#b4b4b4"/><circle cx="602.3" cy="526.5" r="1.25" fill="#333"/><circle cx="437.9" cy="490.1" r="0.74" fill="#b4b4b4"/><circle cx="451.4" cy="479.5" r="0.88" fill="#707070"/><circle cx="394.1" cy="530.1" r="1.03" fill="#333"/><circle cx="584.5" cy="490.5" r="1.19" fill="#333"/><circle cx="394.4" cy="474.7" r="1.23" fill="#333"/><circle cx="540.2" cy="507.9" r="0.75" fill="#707070"/><circle cx="562.7" cy="532.4" r="0.74" fill="#b4b4b4"/><circle cx="84.7" cy="502.4" r="1.16" fill="#333"/><circle cx="219.3" cy="518.8" r="0.83" fill="#707070"/><circle cx="231.0" cy="459.9" r="1.12" fill="#333"/><circle cx="221.7" cy="485.5" r="1.04" fill="#333"/><circle cx="235.2" cy="466.3" r="1.21" fill="#333"/><circle cx="231.9" cy="518.0" r="0.72" fill="#707070"/><circle cx="560.4" cy="468.9" r="0.78" fill="#707070"/><circle cx="123.7" cy="501.5" r="0.84" fill="#707070"/><circle cx="225.5" cy="421.8" r="0.81" fill="#707070"/><circle cx="329.7" cy="534.5" r="0.79" fill="#707070"/><circle cx="367.4" cy="509.5" r="1.01" fill="#333"/><circle cx="285.3" cy="525.9" r="0.83" fill="#707070"/><circle cx="158.8" cy="489.0" r="1.09" fill="#333"/><circle cx="657.9" cy="456.2" r="0.73" fill="#b4b4b4"/><circle cx="543.2" cy="466.9" r="1.14" fill="#333"/><circle cx="265.3" cy="501.1" r="1.04" fill="#333"/><circle cx="642.5" cy="463.6" r="0.83" fill="#707070"/><circle cx="357.6" cy="478.1" r="0.78" fill="#707070"/><circle cx="594.5" cy="457.9" r="1.02" fill="#333"/><circle cx="210.3" cy="506.7" r="0.85" fill="#707070"/><circle cx="365.6" cy="481.1" r="1.18" fill="#333"/><circle cx="387.7" cy="533.7" r="0.84" fill="#b4b4b4"/><circle cx="135.0" cy="490.3" r="1.25" fill="#333"/><circle cx="288.4" cy="471.7" r="1.13" fill="#333"/><circle cx="76.5" cy="462.5" r="0.79" fill="#707070"/><circle cx="463.2" cy="457.5" r="0.83" fill="#707070"/><circle cx="371.1" cy="483.6" r="1.05" fill="#333"/><circle cx="416.1" cy="528.1" r="0.72" fill="#b4b4b4"/><circle cx="675.9" cy="523.9" r="0.87" fill="#707070"/><circle cx="495.8" cy="506.4" r="0.80" fill="#707070"/><circle cx="512.1" cy="508.2" r="0.76" fill="#b4b4b4"/><circle cx="225.2" cy="524.3" r="0.78" fill="#707070"/><circle cx="286.0" cy="505.6" r="0.73" fill="#707070"/><circle cx="647.6" cy="484.1" r="0.66" fill="#b4b4b4"/><circle cx="115.1" cy="487.4" r="1.21" fill="#333"/><circle cx="610.1" cy="435.4" r="0.90" fill="#707070"/><circle cx="189.6" cy="491.4" r="0.87" fill="#707070"/><circle cx="540.6" cy="533.8" r="0.86" fill="#707070"/><circle cx="607.9" cy="502.2" r="0.70" fill="#707070"/><circle cx="557.3" cy="517.5" r="0.79" fill="#707070"/><circle cx="424.7" cy="527.7" r="0.83" fill="#b4b4b4"/><circle cx="467.6" cy="461.8" r="0.75" fill="#b4b4b4"/><circle cx="476.5" cy="503.2" r="0.87" fill="#707070"/><circle cx="190.4" cy="484.6" r="1.02" fill="#333"/><circle cx="496.5" cy="527.6" r="0.82" fill="#707070"/><circle cx="659.6" cy="480.4" r="0.73" fill="#707070"/><circle cx="97.2" cy="515.9" r="0.81" fill="#707070"/><circle cx="293.5" cy="466.9" r="0.84" fill="#b4b4b4"/><circle cx="341.1" cy="490.1" r="0.66" fill="#b4b4b4"/><circle cx="543.2" cy="471.0" r="1.10" fill="#333"/><circle cx="468.9" cy="527.0" r="1.11" fill="#333"/><circle cx="407.5" cy="535.6" r="0.88" fill="#707070"/><circle cx="167.7" cy="470.5" r="0.84" fill="#b4b4b4"/><circle cx="242.7" cy="495.1" r="0.74" fill="#707070"/><circle cx="546.0" cy="484.6" r="0.83" fill="#707070"/><circle cx="508.6" cy="456.7" r="1.02" fill="#333"/><circle cx="366.8" cy="529.4" r="0.78" fill="#707070"/><circle cx="427.1" cy="498.7" r="0.83" fill="#707070"/><circle cx="493.5" cy="479.9" r="0.75" fill="#707070"/><circle cx="104.0" cy="493.7" r="1.14" fill="#333"/><circle cx="120.2" cy="447.1" r="0.86" fill="#707070"/><circle cx="374.1" cy="475.8" r="0.76" fill="#707070"/><circle cx="211.0" cy="516.4" r="0.71" fill="#707070"/><circle cx="261.8" cy="502.8" r="0.82" fill="#707070"/><circle cx="306.2" cy="521.1" r="0.87" fill="#707070"/><circle cx="674.5" cy="504.7" r="0.78" fill="#707070"/><circle cx="519.7" cy="528.7" r="1.22" fill="#333"/><circle cx="477.8" cy="487.6" r="0.66" fill="#b4b4b4"/><circle cx="342.4" cy="485.4" r="0.76" fill="#b4b4b4"/><circle cx="85.8" cy="450.8" r="0.78" fill="#707070"/><circle cx="319.9" cy="535.1" r="1.14" fill="#333"/><circle cx="196.1" cy="523.3" r="0.84" fill="#707070"/><circle cx="112.2" cy="475.1" r="0.72" fill="#707070"/><circle cx="512.4" cy="501.2" r="0.75" fill="#b4b4b4"/><circle cx="533.6" cy="474.5" r="0.85" fill="#707070"/><circle cx="229.8" cy="493.0" r="0.89" fill="#707070"/><circle cx="419.9" cy="469.5" r="0.82" fill="#b4b4b4"/><circle cx="243.9" cy="472.8" r="0.77" fill="#707070"/><circle cx="178.0" cy="481.3" r="1.20" fill="#333"/><circle cx="623.6" cy="486.8" r="0.77" fill="#b4b4b4"/><circle cx="252.9" cy="507.7" r="0.75" fill="#b4b4b4"/><circle cx="400.5" cy="534.7" r="0.67" fill="#b4b4b4"/><circle cx="291.8" cy="500.8" r="0.80" fill="#b4b4b4"/><circle cx="583.7" cy="445.5" r="1.18" fill="#333"/><circle cx="610.9" cy="526.3" r="0.86" fill="#707070"/><circle cx="237.7" cy="461.4" r="1.04" fill="#333"/><circle cx="346.6" cy="508.6" r="0.82" fill="#707070"/><circle cx="425.2" cy="479.0" r="0.89" fill="#707070"/><circle cx="212.1" cy="480.5" r="0.77" fill="#707070"/><circle cx="167.7" cy="530.8" r="0.77" fill="#707070"/><circle cx="340.0" cy="510.8" r="0.81" fill="#b4b4b4"/><circle cx="637.1" cy="488.8" r="1.03" fill="#333"/><circle cx="617.0" cy="517.4" r="0.78" fill="#707070"/><circle cx="214.5" cy="443.2" r="1.12" fill="#333"/><circle cx="215.8" cy="494.9" r="0.87" fill="#707070"/><circle cx="292.1" cy="533.8" r="0.71" fill="#707070"/><circle cx="443.7" cy="515.9" r="1.21" fill="#333"/><circle cx="88.3" cy="491.8" r="0.78" fill="#b4b4b4"/><circle cx="484.7" cy="491.5" r="0.76" fill="#707070"/><circle cx="252.8" cy="472.0" r="0.71" fill="#707070"/><circle cx="265.9" cy="476.4" r="0.77" fill="#b4b4b4"/><circle cx="619.7" cy="500.1" r="0.78" fill="#b4b4b4"/><circle cx="457.5" cy="486.3" r="0.83" fill="#b4b4b4"/><circle cx="564.1" cy="480.6" r="0.74" fill="#707070"/><circle cx="494.9" cy="491.0" r="0.68" fill="#b4b4b4"/><circle cx="532.3" cy="456.4" r="1.13" fill="#333"/><circle cx="319.3" cy="470.7" r="0.81" fill="#b4b4b4"/><circle cx="638.1" cy="512.0" r="0.83" fill="#b4b4b4"/><circle cx="604.3" cy="465.5" r="0.68" fill="#b4b4b4"/><circle cx="181.8" cy="457.7" r="0.76" fill="#707070"/><circle cx="627.9" cy="488.4" r="0.78" fill="#707070"/><circle cx="430.0" cy="482.2" r="0.82" fill="#707070"/><circle cx="280.3" cy="529.8" r="1.13" fill="#333"/><circle cx="575.2" cy="495.7" r="0.68" fill="#b4b4b4"/><circle cx="96.5" cy="506.5" r="1.17" fill="#333"/><circle cx="379.2" cy="531.4" r="0.78" fill="#707070"/><circle cx="515.6" cy="462.0" r="0.81" fill="#b4b4b4"/><circle cx="311.1" cy="467.5" r="1.16" fill="#333"/><circle cx="678.5" cy="444.2" r="0.84" fill="#707070"/><circle cx="439.0" cy="523.5" r="1.15" fill="#333"/><circle cx="382.1" cy="501.8" r="0.81" fill="#b4b4b4"/><circle cx="123.4" cy="516.2" r="1.08" fill="#333"/><circle cx="362.5" cy="513.2" r="1.18" fill="#333"/><circle cx="620.1" cy="475.8" r="0.76" fill="#b4b4b4"/><circle cx="310.7" cy="493.4" r="1.04" fill="#333"/><circle cx="189.4" cy="447.4" r="0.76" fill="#b4b4b4"/><circle cx="529.8" cy="516.4" r="0.74" fill="#707070"/><circle cx="297.6" cy="478.4" r="0.82" fill="#707070"/><circle cx="663.7" cy="521.1" r="0.72" fill="#b4b4b4"/><circle cx="429.5" cy="519.9" r="1.18" fill="#333"/><circle cx="688.4" cy="512.5" r="1.07" fill="#333"/><circle cx="477.9" cy="530.2" r="0.83" fill="#b4b4b4"/><circle cx="273.6" cy="478.6" r="1.16" fill="#333"/><circle cx="192.9" cy="455.3" r="0.79" fill="#707070"/><circle cx="601.4" cy="534.1" r="0.68" fill="#b4b4b4"/><circle cx="555.8" cy="531.1" r="0.71" fill="#707070"/><circle cx="489.3" cy="531.3" r="0.76" fill="#707070"/><circle cx="411.6" cy="515.0" r="1.01" fill="#333"/><circle cx="445.7" cy="510.3" r="0.78" fill="#707070"/><circle cx="617.8" cy="470.9" r="0.79" fill="#707070"/><circle cx="432.6" cy="516.0" r="1.14" fill="#333"/><circle cx="251.6" cy="503.1" r="0.75" fill="#707070"/><circle cx="683.2" cy="505.7" r="0.72" fill="#707070"/><circle cx="253.5" cy="456.5" r="0.81" fill="#b4b4b4"/><circle cx="618.9" cy="460.5" r="0.80" fill="#707070"/><circle cx="649.4" cy="438.9" r="0.77" fill="#707070"/><circle cx="163.8" cy="503.9" r="0.87" fill="#707070"/><circle cx="475.5" cy="458.6" r="1.25" fill="#333"/><circle cx="628.0" cy="505.4" r="0.84" fill="#707070"/><circle cx="272.0" cy="495.7" r="0.76" fill="#707070"/><circle cx="100.5" cy="463.6" r="0.84" fill="#b4b4b4"/><circle cx="161.3" cy="469.8" r="0.85" fill="#707070"/><circle cx="658.3" cy="516.3" r="0.82" fill="#b4b4b4"/><circle cx="228.1" cy="470.6" r="1.01" fill="#333"/><circle cx="502.8" cy="496.2" r="1.04" fill="#333"/><circle cx="582.5" cy="462.5" r="1.13" fill="#333"/><circle cx="673.4" cy="478.4" r="0.72" fill="#707070"/><circle cx="154.4" cy="492.6" r="1.06" fill="#333"/><circle cx="442.3" cy="479.5" r="0.78" fill="#b4b4b4"/><circle cx="547.8" cy="478.8" r="0.88" fill="#707070"/><circle cx="613.2" cy="531.6" r="0.70" fill="#b4b4b4"/><circle cx="490.4" cy="513.2" r="0.77" fill="#b4b4b4"/><circle cx="312.4" cy="483.8" r="0.69" fill="#b4b4b4"/><circle cx="640.7" cy="434.2" r="0.82" fill="#707070"/><circle cx="231.7" cy="500.8" r="0.68" fill="#b4b4b4"/><circle cx="467.4" cy="507.2" r="1.11" fill="#333"/><circle cx="84.8" cy="456.2" r="0.71" fill="#b4b4b4"/><circle cx="96.9" cy="451.5" r="0.69" fill="#b4b4b4"/><circle cx="296.2" cy="524.7" r="0.84" fill="#707070"/><circle cx="130.8" cy="471.4" r="0.75" fill="#707070"/><circle cx="684.1" cy="474.4" r="0.89" fill="#707070"/><circle cx="540.5" cy="484.3" r="0.69" fill="#b4b4b4"/><circle cx="365.7" cy="503.6" r="0.67" fill="#b4b4b4"/><circle cx="559.4" cy="510.5" r="0.79" fill="#b4b4b4"/><circle cx="402.4" cy="474.9" r="1.07" fill="#333"/><circle cx="77.3" cy="534.1" r="0.84" fill="#b4b4b4"/><circle cx="588.0" cy="445.5" r="1.19" fill="#333"/><circle cx="153.7" cy="441.5" r="0.80" fill="#707070"/><circle cx="517.2" cy="503.3" r="0.69" fill="#b4b4b4"/><circle cx="354.7" cy="490.0" r="0.89" fill="#707070"/><circle cx="103.2" cy="446.5" r="1.08" fill="#333"/><circle cx="159.6" cy="476.2" r="0.82" fill="#b4b4b4"/><circle cx="444.2" cy="530.0" r="0.66" fill="#b4b4b4"/><circle cx="590.3" cy="489.4" r="1.21" fill="#333"/><circle cx="200.6" cy="521.1" r="0.79" fill="#707070"/><circle cx="226.1" cy="496.8" r="0.89" fill="#707070"/><circle cx="328.5" cy="469.8" r="0.81" fill="#707070"/><circle cx="557.3" cy="471.2" r="0.79" fill="#b4b4b4"/><circle cx="623.9" cy="496.0" r="0.68" fill="#b4b4b4"/><circle cx="536.9" cy="480.0" r="1.00" fill="#333"/><circle cx="442.6" cy="522.6" r="0.81" fill="#707070"/><circle cx="105.9" cy="459.4" r="0.89" fill="#707070"/><circle cx="305.8" cy="528.5" r="0.88" fill="#707070"/><circle cx="375.6" cy="497.4" r="0.74" fill="#707070"/><circle cx="525.4" cy="518.3" r="0.90" fill="#707070"/><circle cx="125.2" cy="493.6" r="0.72" fill="#b4b4b4"/><circle cx="649.0" cy="467.1" r="0.84" fill="#b4b4b4"/><circle cx="618.7" cy="526.5" r="0.74" fill="#b4b4b4"/><circle cx="142.9" cy="438.7" r="0.87" fill="#707070"/><circle cx="652.3" cy="526.0" r="0.79" fill="#707070"/><circle cx="357.6" cy="483.9" r="1.04" fill="#333"/><circle cx="204.0" cy="496.7" r="1.18" fill="#333"/><circle cx="397.7" cy="486.7" r="0.77" fill="#707070"/><circle cx="274.5" cy="483.3" r="1.16" fill="#333"/><circle cx="664.6" cy="528.7" r="0.82" fill="#b4b4b4"/><circle cx="643.1" cy="512.8" r="0.81" fill="#b4b4b4"/><circle cx="524.4" cy="512.0" r="1.08" fill="#333"/><circle cx="113.1" cy="496.7" r="1.25" fill="#333"/><circle cx="374.8" cy="520.5" r="0.81" fill="#707070"/><circle cx="683.3" cy="455.3" r="0.87" fill="#707070"/><circle cx="489.9" cy="487.1" r="0.90" fill="#707070"/><circle cx="627.7" cy="495.6" r="0.83" fill="#707070"/><circle cx="567.9" cy="457.5" r="0.65" fill="#b4b4b4"/><circle cx="201.3" cy="455.9" r="0.78" fill="#707070"/><circle cx="330.5" cy="491.5" r="0.77" fill="#707070"/><circle cx="449.1" cy="496.8" r="0.90" fill="#707070"/><circle cx="574.0" cy="534.5" r="0.70" fill="#707070"/><circle cx="452.4" cy="483.2" r="0.82" fill="#707070"/><circle cx="605.0" cy="479.4" r="0.80" fill="#707070"/><circle cx="585.1" cy="481.2" r="0.80" fill="#707070"/><circle cx="151.8" cy="477.3" r="1.08" fill="#333"/><circle cx="283.8" cy="532.7" r="0.75" fill="#b4b4b4"/><circle cx="254.4" cy="461.3" r="0.83" fill="#b4b4b4"/><circle cx="575.8" cy="502.4" r="1.24" fill="#333"/><circle cx="505.4" cy="476.9" r="0.79" fill="#707070"/><circle cx="607.1" cy="498.2" r="0.82" fill="#b4b4b4"/><circle cx="172.3" cy="472.8" r="0.87" fill="#707070"/><circle cx="158.0" cy="531.4" r="1.20" fill="#333"/><circle cx="261.1" cy="478.6" r="0.72" fill="#707070"/><circle cx="271.7" cy="487.0" r="0.88" fill="#707070"/><circle cx="515.5" cy="467.0" r="0.87" fill="#707070"/><circle cx="76.2" cy="505.8" r="1.15" fill="#333"/><circle cx="112.8" cy="519.5" r="0.74" fill="#b4b4b4"/><circle cx="536.6" cy="533.4" r="0.88" fill="#707070"/><circle cx="301.3" cy="528.9" r="0.88" fill="#707070"/><circle cx="497.1" cy="511.6" r="0.85" fill="#707070"/><circle cx="301.8" cy="522.9" r="0.72" fill="#707070"/><circle cx="101.4" cy="518.5" r="0.65" fill="#b4b4b4"/><circle cx="225.2" cy="447.4" r="0.72" fill="#707070"/><circle cx="149.5" cy="526.5" r="0.88" fill="#707070"/><circle cx="314.6" cy="533.7" r="0.86" fill="#707070"/><circle cx="126.8" cy="507.3" r="0.83" fill="#707070"/><circle cx="447.4" cy="459.6" r="1.03" fill="#333"/><circle cx="92.9" cy="516.7" r="0.75" fill="#707070"/><circle cx="544.4" cy="459.1" r="0.68" fill="#b4b4b4"/><circle cx="340.0" cy="516.5" r="0.82" fill="#707070"/><circle cx="242.2" cy="480.0" r="0.72" fill="#707070"/><circle cx="659.9" cy="463.8" r="0.76" fill="#707070"/><circle cx="599.1" cy="456.8" r="0.82" fill="#b4b4b4"/><circle cx="472.0" cy="482.3" r="1.01" fill="#333"/><circle cx="84.9" cy="474.1" r="1.08" fill="#333"/><circle cx="634.9" cy="499.1" r="0.83" fill="#707070"/><circle cx="247.3" cy="478.6" r="0.79" fill="#707070"/><circle cx="491.7" cy="520.2" r="0.83" fill="#b4b4b4"/><circle cx="287.6" cy="529.3" r="1.11" fill="#333"/><circle cx="587.5" cy="533.1" r="0.87" fill="#707070"/><circle cx="445.8" cy="526.5" r="0.76" fill="#b4b4b4"/><circle cx="457.4" cy="475.0" r="0.82" fill="#707070"/><circle cx="92.5" cy="443.6" r="0.88" fill="#707070"/><circle cx="491.5" cy="471.4" r="0.75" fill="#707070"/><circle cx="184.8" cy="505.2" r="0.78" fill="#b4b4b4"/><circle cx="469.7" cy="477.6" r="0.70" fill="#707070"/><circle cx="360.1" cy="490.5" r="0.70" fill="#707070"/><circle cx="434.7" cy="532.3" r="1.10" fill="#333"/><circle cx="453.6" cy="470.1" r="0.83" fill="#b4b4b4"/><circle cx="189.1" cy="529.3" r="0.78" fill="#b4b4b4"/><circle cx="678.0" cy="462.3" r="0.77" fill="#707070"/><circle cx="686.2" cy="480.7" r="1.14" fill="#333"/><circle cx="464.6" cy="470.1" r="0.79" fill="#707070"/><circle cx="670.5" cy="460.2" r="0.80" fill="#b4b4b4"/><circle cx="392.7" cy="535.5" r="0.82" fill="#b4b4b4"/><circle cx="130.0" cy="515.4" r="0.87" fill="#707070"/><circle cx="145.5" cy="468.7" r="0.72" fill="#b4b4b4"/><circle cx="561.6" cy="477.5" r="1.10" fill="#333"/><circle cx="273.9" cy="529.4" r="0.79" fill="#b4b4b4"/><circle cx="455.9" cy="459.1" r="0.76" fill="#b4b4b4"/><circle cx="563.6" cy="507.4" r="1.07" fill="#333"/><circle cx="221.0" cy="532.6" r="0.72" fill="#707070"/><circle cx="429.8" cy="466.3" r="0.69" fill="#b4b4b4"/><circle cx="379.3" cy="513.2" r="0.89" fill="#707070"/><circle cx="599.8" cy="476.3" r="0.87" fill="#707070"/><circle cx="222.7" cy="444.4" r="0.76" fill="#707070"/><circle cx="215.0" cy="490.6" r="0.77" fill="#707070"/><circle cx="435.0" cy="499.6" r="0.70" fill="#707070"/><circle cx="127.1" cy="469.2" r="0.83" fill="#b4b4b4"/><circle cx="546.1" cy="455.2" r="0.89" fill="#707070"/><circle cx="165.8" cy="489.2" r="0.71" fill="#b4b4b4"/><circle cx="249.7" cy="527.7" r="1.06" fill="#333"/><circle cx="90.7" cy="522.5" r="0.85" fill="#707070"/><circle cx="667.2" cy="443.7" r="0.73" fill="#707070"/><circle cx="83.3" cy="497.2" r="0.89" fill="#707070"/><circle cx="218.5" cy="503.7" r="1.03" fill="#333"/><circle cx="445.8" cy="466.7" r="0.75" fill="#707070"/><circle cx="592.1" cy="467.6" r="0.73" fill="#707070"/><circle cx="503.0" cy="519.3" r="0.70" fill="#b4b4b4"/><circle cx="463.5" cy="500.4" r="1.24" fill="#333"/><circle cx="246.2" cy="459.5" r="0.83" fill="#707070"/><circle cx="629.4" cy="532.0" r="0.84" fill="#b4b4b4"/><circle cx="651.5" cy="488.4" r="0.73" fill="#b4b4b4"/><circle cx="184.8" cy="463.6" r="0.72" fill="#707070"/><circle cx="133.5" cy="445.3" r="0.85" fill="#707070"/><circle cx="379.7" cy="509.3" r="0.70" fill="#707070"/><circle cx="435.1" cy="494.1" r="0.81" fill="#707070"/><circle cx="333.0" cy="526.8" r="0.74" fill="#b4b4b4"/><circle cx="518.7" cy="473.0" r="1.11" fill="#333"/><circle cx="201.6" cy="501.3" r="0.73" fill="#b4b4b4"/><circle cx="460.9" cy="514.8" r="1.17" fill="#333"/><circle cx="291.4" cy="474.8" r="0.68" fill="#b4b4b4"/><circle cx="397.8" cy="497.7" r="0.76" fill="#707070"/><circle cx="322.5" cy="521.7" r="0.69" fill="#b4b4b4"/><circle cx="448.8" cy="486.1" r="0.77" fill="#707070"/><circle cx="289.0" cy="513.4" r="0.76" fill="#707070"/><circle cx="225.2" cy="529.0" r="0.82" fill="#b4b4b4"/><circle cx="174.0" cy="448.4" r="0.74" fill="#b4b4b4"/><circle cx="615.1" cy="493.0" r="0.79" fill="#707070"/><circle cx="219.7" cy="480.1" r="0.70" fill="#707070"/><circle cx="329.1" cy="529.6" r="1.12" fill="#333"/><circle cx="403.8" cy="487.8" r="1.05" fill="#333"/><circle cx="277.6" cy="495.6" r="0.81" fill="#707070"/><circle cx="540.5" cy="413.3" r="0.73" fill="#b4b4b4"/><circle cx="133.3" cy="496.3" r="0.83" fill="#707070"/><circle cx="92.5" cy="509.8" r="1.16" fill="#333"/><circle cx="121.1" cy="526.6" r="0.83" fill="#707070"/><circle cx="651.3" cy="536.0" r="0.78" fill="#707070"/><circle cx="409.5" cy="497.0" r="0.66" fill="#b4b4b4"/><circle cx="180.9" cy="483.7" r="0.71" fill="#b4b4b4"/><circle cx="144.7" cy="501.4" r="0.80" fill="#b4b4b4"/><circle cx="614.4" cy="469.5" r="1.12" fill="#333"/><circle cx="652.8" cy="468.8" r="0.85" fill="#b4b4b4"/><circle cx="326.4" cy="485.3" r="0.73" fill="#707070"/><circle cx="203.1" cy="461.5" r="1.08" fill="#333"/><circle cx="367.8" cy="535.2" r="1.16" fill="#333"/><circle cx="548.4" cy="531.4" r="1.19" fill="#333"/><circle cx="417.1" cy="497.0" r="0.88" fill="#707070"/><circle cx="453.0" cy="461.6" r="0.78" fill="#707070"/><circle cx="99.1" cy="479.8" r="0.88" fill="#707070"/><circle cx="471.5" cy="487.3" r="0.76" fill="#b4b4b4"/><circle cx="229.9" cy="528.9" r="1.09" fill="#333"/><circle cx="118.3" cy="496.9" r="1.18" fill="#333"/><circle cx="147.3" cy="498.7" r="0.77" fill="#707070"/><circle cx="121.5" cy="443.3" r="0.65" fill="#b4b4b4"/><circle cx="181.2" cy="436.7" r="0.85" fill="#707070"/><circle cx="174.2" cy="497.2" r="1.23" fill="#333"/><circle cx="670.8" cy="522.7" r="0.88" fill="#707070"/><circle cx="529.6" cy="484.8" r="0.81" fill="#b4b4b4"/><circle cx="585.6" cy="500.9" r="0.71" fill="#707070"/><circle cx="383.9" cy="532.6" r="0.89" fill="#707070"/><circle cx="242.1" cy="520.9" r="0.79" fill="#707070"/><circle cx="614.3" cy="440.5" r="0.73" fill="#707070"/><circle cx="484.6" cy="454.0" r="0.77" fill="#b4b4b4"/><circle cx="538.0" cy="512.1" r="0.84" fill="#707070"/><circle cx="257.7" cy="510.3" r="1.12" fill="#333"/><circle cx="200.7" cy="476.8" r="0.70" fill="#b4b4b4"/><circle cx="401.2" cy="523.2" r="0.90" fill="#707070"/><circle cx="640.8" cy="507.7" r="0.87" fill="#707070"/><circle cx="550.8" cy="456.2" r="0.81" fill="#b4b4b4"/><circle cx="283.1" cy="489.0" r="0.73" fill="#707070"/><circle cx="138.8" cy="524.7" r="0.72" fill="#b4b4b4"/><circle cx="292.0" cy="526.1" r="0.75" fill="#707070"/><circle cx="92.5" cy="491.4" r="0.66" fill="#b4b4b4"/><circle cx="608.3" cy="507.7" r="0.90" fill="#707070"/><circle cx="668.1" cy="481.1" r="0.75" fill="#707070"/><circle cx="79.0" cy="446.0" r="0.74" fill="#b4b4b4"/><circle cx="642.5" cy="519.3" r="0.87" fill="#707070"/><circle cx="181.7" cy="451.2" r="1.07" fill="#333"/><circle cx="145.2" cy="494.8" r="1.15" fill="#333"/><circle cx="571.7" cy="477.4" r="0.79" fill="#707070"/><circle cx="499.2" cy="524.1" r="0.83" fill="#b4b4b4"/><circle cx="440.3" cy="486.5" r="1.23" fill="#333"/><circle cx="498.6" cy="532.1" r="0.72" fill="#707070"/><circle cx="131.8" cy="479.9" r="0.80" fill="#707070"/><circle cx="577.7" cy="524.9" r="0.70" fill="#b4b4b4"/><circle cx="550.6" cy="497.5" r="0.79" fill="#b4b4b4"/><circle cx="285.9" cy="461.8" r="1.13" fill="#333"/><circle cx="464.5" cy="524.2" r="1.13" fill="#333"/><circle cx="299.4" cy="513.7" r="1.07" fill="#333"/><circle cx="248.4" cy="455.7" r="1.12" fill="#333"/><circle cx="409.5" cy="485.5" r="0.77" fill="#b4b4b4"/><circle cx="644.2" cy="438.9" r="1.01" fill="#333"/><circle cx="364.7" cy="474.9" r="1.23" fill="#333"/><circle cx="182.8" cy="513.8" r="0.81" fill="#707070"/><circle cx="685.7" cy="494.3" r="0.88" fill="#707070"/><circle cx="105.4" cy="469.5" r="0.72" fill="#b4b4b4"/><circle cx="373.9" cy="516.0" r="0.81" fill="#707070"/><circle cx="203.0" cy="530.0" r="1.03" fill="#333"/><circle cx="548.9" cy="468.8" r="0.73" fill="#707070"/><circle cx="236.9" cy="502.8" r="1.23" fill="#333"/><circle cx="337.6" cy="474.4" r="0.69" fill="#b4b4b4"/><circle cx="325.3" cy="534.7" r="0.78" fill="#b4b4b4"/><circle cx="124.1" cy="523.6" r="0.76" fill="#b4b4b4"/><circle cx="155.2" cy="518.8" r="0.67" fill="#b4b4b4"/><circle cx="663.8" cy="441.9" r="1.14" fill="#333"/><circle cx="117.4" cy="473.2" r="1.06" fill="#333"/><circle cx="554.5" cy="494.1" r="0.80" fill="#b4b4b4"/><circle cx="463.0" cy="519.0" r="1.13" fill="#333"/><circle cx="194.7" cy="449.6" r="1.11" fill="#333"/><circle cx="634.0" cy="514.5" r="0.82" fill="#b4b4b4"/><circle cx="674.0" cy="497.1" r="1.14" fill="#333"/><circle cx="497.7" cy="479.4" r="1.04" fill="#333"/><circle cx="327.4" cy="522.3" r="0.83" fill="#b4b4b4"/><circle cx="257.1" cy="500.9" r="1.15" fill="#333"/><circle cx="270.3" cy="471.9" r="0.70" fill="#707070"/><circle cx="98.3" cy="468.7" r="0.77" fill="#707070"/><circle cx="616.5" cy="502.6" r="1.11" fill="#333"/><circle cx="437.3" cy="517.7" r="0.82" fill="#707070"/><circle cx="309.3" cy="532.2" r="0.72" fill="#707070"/><circle cx="653.7" cy="483.6" r="0.79" fill="#b4b4b4"/><circle cx="362.5" cy="506.7" r="1.08" fill="#333"/><circle cx="523.5" cy="477.5" r="1.18" fill="#333"/><circle cx="296.5" cy="533.7" r="0.88" fill="#707070"/><circle cx="688.6" cy="476.1" r="0.80" fill="#707070"/><circle cx="554.9" cy="487.6" r="0.72" fill="#707070"/><circle cx="679.7" cy="523.4" r="0.89" fill="#707070"/><circle cx="667.1" cy="525.1" r="0.86" fill="#707070"/><circle cx="593.6" cy="436.4" r="1.11" fill="#333"/><circle cx="543.1" cy="504.9" r="0.85" fill="#707070"/><circle cx="350.0" cy="517.2" r="1.10" fill="#333"/><circle cx="510.5" cy="460.4" r="0.86" fill="#707070"/><circle cx="563.8" cy="484.9" r="0.67" fill="#b4b4b4"/><circle cx="577.5" cy="466.0" r="0.76" fill="#707070"/><circle cx="173.6" cy="522.6" r="1.03" fill="#333"/><circle cx="207.7" cy="511.7" r="0.71" fill="#707070"/><circle cx="590.3" cy="462.1" r="0.71" fill="#707070"/><circle cx="312.7" cy="513.6" r="0.71" fill="#b4b4b4"/><circle cx="118.6" cy="458.6" r="0.77" fill="#707070"/><circle cx="416.2" cy="490.8" r="0.72" fill="#707070"/><circle cx="242.1" cy="528.9" r="0.70" fill="#b4b4b4"/><circle cx="667.4" cy="492.0" r="0.84" fill="#707070"/><circle cx="301.8" cy="498.8" r="0.83" fill="#707070"/><circle cx="383.1" cy="482.9" r="0.74" fill="#707070"/><circle cx="184.8" cy="473.0" r="0.74" fill="#707070"/><circle cx="351.5" cy="530.9" r="1.06" fill="#333"/><circle cx="185.2" cy="489.2" r="0.86" fill="#707070"/><circle cx="491.3" cy="476.5" r="0.74" fill="#707070"/><circle cx="228.9" cy="475.1" r="0.72" fill="#707070"/><circle cx="196.3" cy="445.4" r="0.76" fill="#b4b4b4"/><circle cx="605.1" cy="469.8" r="0.79" fill="#b4b4b4"/><circle cx="240.5" cy="524.5" r="0.78" fill="#707070"/><circle cx="405.6" cy="522.9" r="1.00" fill="#333"/><circle cx="450.1" cy="464.6" r="0.77" fill="#707070"/><circle cx="185.0" cy="521.7" r="0.76" fill="#707070"/><circle cx="532.4" cy="451.5" r="1.08" fill="#333"/><circle cx="605.1" cy="483.6" r="1.15" fill="#333"/><circle cx="472.1" cy="501.2" r="0.89" fill="#707070"/><circle cx="537.6" cy="524.5" r="0.79" fill="#707070"/><circle cx="155.3" cy="480.1" r="0.80" fill="#707070"/><circle cx="583.1" cy="458.6" r="0.78" fill="#b4b4b4"/><circle cx="229.8" cy="482.6" r="0.78" fill="#707070"/><circle cx="346.8" cy="474.5" r="0.77" fill="#707070"/><circle cx="298.0" cy="467.0" r="0.73" fill="#b4b4b4"/><circle cx="429.4" cy="473.7" r="0.79" fill="#b4b4b4"/><circle cx="206.2" cy="527.7" r="1.05" fill="#333"/><circle cx="261.1" cy="469.9" r="0.84" fill="#707070"/><circle cx="627.3" cy="513.3" r="0.75" fill="#707070"/><circle cx="544.8" cy="533.4" r="0.73" fill="#707070"/><circle cx="528.1" cy="498.0" r="0.88" fill="#707070"/><circle cx="292.6" cy="518.9" r="1.10" fill="#333"/><circle cx="628.7" cy="482.3" r="0.72" fill="#707070"/><circle cx="205.3" cy="472.3" r="0.84" fill="#707070"/><circle cx="507.7" cy="518.3" r="0.89" fill="#707070"/><circle cx="325.0" cy="472.7" r="0.86" fill="#707070"/><circle cx="635.2" cy="477.3" r="1.16" fill="#333"/><circle cx="630.5" cy="460.5" r="1.21" fill="#333"/><circle cx="92.2" cy="486.9" r="0.71" fill="#b4b4b4"/><circle cx="133.7" cy="522.2" r="1.04" fill="#333"/><circle cx="611.7" cy="460.1" r="0.89" fill="#707070"/><circle cx="605.9" cy="525.0" r="0.82" fill="#b4b4b4"/><circle cx="401.1" cy="503.5" r="1.18" fill="#333"/><circle cx="527.1" cy="531.9" r="0.71" fill="#707070"/><circle cx="141.4" cy="518.2" r="0.78" fill="#707070"/><circle cx="81.9" cy="522.3" r="0.73" fill="#b4b4b4"/><circle cx="619.8" cy="494.8" r="0.78" fill="#707070"/><circle cx="76.9" cy="527.0" r="1.11" fill="#333"/><circle cx="560.0" cy="443.3" r="0.84" fill="#b4b4b4"/><circle cx="584.0" cy="510.5" r="0.68" fill="#b4b4b4"/><circle cx="658.7" cy="533.1" r="0.77" fill="#707070"/><circle cx="482.2" cy="458.4" r="1.05" fill="#333"/><circle cx="168.6" cy="513.4" r="0.75" fill="#b4b4b4"/><circle cx="101.7" cy="533.8" r="0.73" fill="#707070"/><circle cx="133.8" cy="511.2" r="0.85" fill="#b4b4b4"/><circle cx="229.9" cy="452.0" r="1.10" fill="#333"/><circle cx="574.3" cy="468.0" r="0.86" fill="#707070"/><circle cx="290.1" cy="495.2" r="1.15" fill="#333"/><circle cx="596.8" cy="495.3" r="1.02" fill="#333"/><circle cx="325.9" cy="498.1" r="0.70" fill="#b4b4b4"/><circle cx="358.7" cy="511.9" r="0.73" fill="#707070"/><circle cx="333.6" cy="519.9" r="0.74" fill="#707070"/><circle cx="164.4" cy="513.2" r="0.68" fill="#b4b4b4"/><circle cx="296.0" cy="511.2" r="0.68" fill="#b4b4b4"/><circle cx="185.0" cy="527.0" r="0.77" fill="#b4b4b4"/><circle cx="616.9" cy="522.7" r="0.88" fill="#707070"/><circle cx="98.0" cy="486.1" r="0.65" fill="#b4b4b4"/><circle cx="550.9" cy="502.6" r="1.01" fill="#333"/><circle cx="527.2" cy="452.7" r="1.20" fill="#333"/><circle cx="386.6" cy="495.5" r="0.73" fill="#707070"/><circle cx="592.9" cy="513.8" r="0.84" fill="#707070"/><circle cx="682.2" cy="495.7" r="0.89" fill="#707070"/><circle cx="659.2" cy="471.0" r="0.84" fill="#b4b4b4"/><circle cx="576.7" cy="488.5" r="0.75" fill="#707070"/><circle cx="100.0" cy="510.6" r="1.13" fill="#333"/><circle cx="104.3" cy="465.7" r="0.73" fill="#707070"/><circle cx="511.6" cy="519.1" r="0.67" fill="#b4b4b4"/><circle cx="369.7" cy="504.5" r="0.68" fill="#b4b4b4"/><circle cx="645.0" cy="472.8" r="0.70" fill="#707070"/><circle cx="261.0" cy="482.5" r="0.73" fill="#b4b4b4"/><circle cx="621.8" cy="532.6" r="0.70" fill="#707070"/><circle cx="592.6" cy="453.6" r="0.73" fill="#707070"/><circle cx="88.1" cy="498.8" r="0.74" fill="#707070"/><circle cx="420.4" cy="489.8" r="0.72" fill="#707070"/><circle cx="145.4" cy="475.0" r="0.72" fill="#707070"/><circle cx="169.6" cy="481.5" r="0.88" fill="#707070"/><circle cx="247.2" cy="487.2" r="1.23" fill="#333"/><circle cx="118.4" cy="515.2" r="0.76" fill="#707070"/><circle cx="681.1" cy="469.7" r="0.89" fill="#707070"/><circle cx="155.8" cy="500.2" r="0.79" fill="#707070"/><circle cx="241.9" cy="502.7" r="1.15" fill="#333"/><circle cx="603.5" cy="457.0" r="0.72" fill="#707070"/><circle cx="422.4" cy="485.5" r="0.76" fill="#b4b4b4"/><circle cx="466.2" cy="514.9" r="0.88" fill="#707070"/><circle cx="499.5" cy="485.8" r="0.77" fill="#707070"/><circle cx="653.6" cy="494.9" r="0.80" fill="#707070"/><circle cx="204.4" cy="504.1" r="1.00" fill="#333"/><circle cx="687.2" cy="454.0" r="0.70" fill="#707070"/><circle cx="269.4" cy="491.0" r="0.76" fill="#707070"/><circle cx="595.8" cy="531.5" r="0.80" fill="#b4b4b4"/><circle cx="183.8" cy="533.8" r="1.10" fill="#333"/><circle cx="408.8" cy="481.4" r="0.82" fill="#707070"/><circle cx="110.9" cy="480.9" r="0.71" fill="#b4b4b4"/><circle cx="550.5" cy="484.7" r="1.11" fill="#333"/><circle cx="471.2" cy="532.6" r="0.81" fill="#707070"/><circle cx="584.2" cy="494.5" r="0.76" fill="#b4b4b4"/><circle cx="101.9" cy="476.9" r="1.17" fill="#333"/><circle cx="268.9" cy="504.5" r="0.76" fill="#b4b4b4"/><circle cx="540.5" cy="516.9" r="1.07" fill="#333"/><circle cx="114.0" cy="491.2" r="0.85" fill="#707070"/><circle cx="193.0" cy="504.3" r="1.08" fill="#333"/><circle cx="614.3" cy="429.0" r="1.00" fill="#333"/><circle cx="325.3" cy="512.0" r="0.74" fill="#707070"/><circle cx="478.0" cy="495.1" r="0.84" fill="#b4b4b4"/><circle cx="184.1" cy="481.4" r="0.81" fill="#707070"/><circle cx="102.5" cy="500.9" r="1.05" fill="#333"/><circle cx="580.3" cy="442.0" r="0.72" fill="#707070"/><circle cx="80.8" cy="471.6" r="0.66" fill="#b4b4b4"/><circle cx="522.8" cy="461.5" r="0.77" fill="#707070"/><circle cx="148.6" cy="445.4" r="0.85" fill="#b4b4b4"/><circle cx="189.5" cy="512.1" r="0.85" fill="#b4b4b4"/><circle cx="643.9" cy="531.5" r="1.04" fill="#333"/><circle cx="456.2" cy="509.8" r="0.76" fill="#707070"/><circle cx="623.6" cy="441.1" r="0.76" fill="#b4b4b4"/><circle cx="687.7" cy="463.0" r="0.79" fill="#707070"/><circle cx="553.3" cy="515.8" r="0.72" fill="#b4b4b4"/><circle cx="82.6" cy="527.2" r="1.12" fill="#333"/><circle cx="450.5" cy="532.8" r="0.75" fill="#707070"/><circle cx="262.1" cy="458.9" r="0.88" fill="#707070"/><circle cx="218.7" cy="507.6" r="0.70" fill="#b4b4b4"/><circle cx="371.0" cy="472.4" r="1.05" fill="#333"/><circle cx="383.1" cy="470.3" r="0.75" fill="#b4b4b4"/><circle cx="212.0" cy="484.7" r="1.06" fill="#333"/><circle cx="411.6" cy="476.3" r="1.15" fill="#333"/><circle cx="354.8" cy="524.7" r="0.85" fill="#707070"/><circle cx="545.7" cy="491.1" r="0.82" fill="#707070"/><circle cx="76.7" cy="487.1" r="0.71" fill="#707070"/><circle cx="619.3" cy="490.2" r="0.83" fill="#b4b4b4"/><circle cx="510.5" cy="512.1" r="1.17" fill="#333"/><circle cx="522.2" cy="532.9" r="0.66" fill="#b4b4b4"/><circle cx="564.2" cy="535.9" r="0.73" fill="#b4b4b4"/><circle cx="550.9" cy="448.4" r="1.14" fill="#333"/><circle cx="580.3" cy="502.7" r="0.75" fill="#b4b4b4"/><circle cx="181.2" cy="508.4" r="0.69" fill="#b4b4b4"/><circle cx="247.9" cy="534.0" r="0.68" fill="#b4b4b4"/><circle cx="208.9" cy="471.0" r="0.83" fill="#b4b4b4"/><circle cx="587.3" cy="467.2" r="0.85" fill="#707070"/><circle cx="99.7" cy="498.5" r="1.01" fill="#333"/><circle cx="340.1" cy="497.4" r="1.17" fill="#333"/><circle cx="563.4" cy="517.2" r="1.14" fill="#333"/><circle cx="178.2" cy="445.9" r="0.73" fill="#707070"/><circle cx="377.4" cy="481.1" r="0.76" fill="#707070"/><circle cx="379.0" cy="476.9" r="0.69" fill="#b4b4b4"/><circle cx="609.1" cy="532.5" r="0.88" fill="#707070"/><circle cx="283.0" cy="477.7" r="0.70" fill="#b4b4b4"/><circle cx="466.3" cy="491.0" r="0.74" fill="#707070"/><circle cx="638.6" cy="531.4" r="0.68" fill="#b4b4b4"/><circle cx="93.1" cy="502.7" r="1.12" fill="#333"/><circle cx="539.3" cy="448.5" r="0.79" fill="#707070"/><circle cx="115.0" cy="525.0" r="0.70" fill="#707070"/><circle cx="189.3" cy="534.8" r="0.78" fill="#b4b4b4"/><circle cx="200.2" cy="535.1" r="0.87" fill="#707070"/><circle cx="670.6" cy="440.3" r="0.73" fill="#707070"/><circle cx="688.9" cy="497.8" r="1.01" fill="#333"/><circle cx="635.3" cy="524.0" r="0.71" fill="#707070"/><circle cx="559.4" cy="455.3" r="1.19" fill="#333"/><circle cx="524.5" cy="457.1" r="0.72" fill="#707070"/><circle cx="496.7" cy="495.1" r="0.89" fill="#707070"/><circle cx="681.9" cy="485.4" r="0.74" fill="#b4b4b4"/><circle cx="596.0" cy="475.2" r="0.88" fill="#707070"/><circle cx="611.3" cy="515.3" r="0.80" fill="#707070"/><circle cx="558.2" cy="499.6" r="0.72" fill="#b4b4b4"/><circle cx="77.2" cy="519.5" r="0.76" fill="#b4b4b4"/><circle cx="336.2" cy="495.6" r="0.82" fill="#707070"/><circle cx="624.4" cy="476.8" r="0.90" fill="#707070"/><circle cx="205.4" cy="464.9" r="1.21" fill="#333"/><circle cx="128.0" cy="511.0" r="1.12" fill="#333"/><circle cx="668.5" cy="515.0" r="0.79" fill="#b4b4b4"/><circle cx="100.2" cy="504.1" r="0.75" fill="#707070"/><circle cx="236.6" cy="451.6" r="0.74" fill="#707070"/><circle cx="391.1" cy="523.8" r="0.83" fill="#707070"/><circle cx="168.6" cy="518.7" r="1.05" fill="#333"/><circle cx="421.2" cy="476.4" r="0.83" fill="#b4b4b4"/><circle cx="392.6" cy="470.3" r="0.84" fill="#707070"/><circle cx="213.2" cy="453.9" r="0.81" fill="#b4b4b4"/><circle cx="650.6" cy="462.1" r="0.71" fill="#707070"/><circle cx="342.4" cy="476.1" r="0.79" fill="#707070"/><circle cx="271.2" cy="515.9" r="0.85" fill="#707070"/><circle cx="255.2" cy="477.4" r="0.79" fill="#707070"/><circle cx="98.4" cy="522.6" r="0.79" fill="#b4b4b4"/><circle cx="115.3" cy="440.8" r="0.70" fill="#b4b4b4"/><circle cx="550.8" cy="489.9" r="0.79" fill="#707070"/><circle cx="209.6" cy="530.5" r="0.74" fill="#b4b4b4"/><circle cx="334.4" cy="484.5" r="0.88" fill="#707070"/><circle cx="486.3" cy="463.5" r="0.73" fill="#707070"/><circle cx="632.8" cy="437.8" r="1.09" fill="#333"/><circle cx="685.5" cy="524.1" r="0.75" fill="#707070"/><circle cx="580.7" cy="450.0" r="0.79" fill="#b4b4b4"/><circle cx="313.5" cy="490.1" r="1.21" fill="#333"/><circle cx="683.9" cy="512.3" r="0.66" fill="#b4b4b4"/><circle cx="328.4" cy="474.9" r="0.76" fill="#b4b4b4"/><circle cx="248.4" cy="512.6" r="0.88" fill="#707070"/><circle cx="569.2" cy="534.5" r="0.67" fill="#b4b4b4"/><circle cx="415.2" cy="511.8" r="0.65" fill="#b4b4b4"/><circle cx="430.3" cy="529.6" r="0.73" fill="#707070"/><circle cx="262.1" cy="534.8" r="1.16" fill="#333"/><circle cx="670.9" cy="447.9" r="1.03" fill="#333"/><circle cx="423.5" cy="503.7" r="0.78" fill="#707070"/><circle cx="350.1" cy="502.1" r="0.66" fill="#b4b4b4"/><circle cx="170.8" cy="434.3" r="0.88" fill="#707070"/><circle cx="302.0" cy="533.7" r="0.76" fill="#b4b4b4"/><circle cx="507.6" cy="525.7" r="0.88" fill="#707070"/><circle cx="179.5" cy="500.4" r="0.74" fill="#b4b4b4"/><circle cx="397.7" cy="517.9" r="0.73" fill="#707070"/><circle cx="218.0" cy="523.8" r="0.81" fill="#b4b4b4"/><circle cx="138.9" cy="488.1" r="1.01" fill="#333"/><circle cx="645.8" cy="476.5" r="0.76" fill="#707070"/><circle cx="201.0" cy="471.6" r="0.68" fill="#b4b4b4"/><circle cx="644.2" cy="523.9" r="0.81" fill="#b4b4b4"/><circle cx="202.5" cy="525.9" r="0.83" fill="#707070"/><circle cx="636.5" cy="507.6" r="1.20" fill="#333"/><circle cx="163.4" cy="519.1" r="0.80" fill="#b4b4b4"/><circle cx="648.4" cy="506.1" r="1.19" fill="#333"/><circle cx="421.1" cy="465.6" r="0.88" fill="#707070"/><circle cx="139.1" cy="471.2" r="0.83" fill="#b4b4b4"/><circle cx="343.0" cy="507.3" r="1.09" fill="#333"/><circle cx="419.1" cy="520.6" r="0.80" fill="#707070"/><circle cx="310.5" cy="499.5" r="0.75" fill="#707070"/><circle cx="658.4" cy="443.8" r="0.88" fill="#707070"/><circle cx="601.5" cy="511.0" r="0.88" fill="#707070"/><circle cx="226.4" cy="489.4" r="0.72" fill="#707070"/><circle cx="192.6" cy="444.3" r="0.84" fill="#707070"/><circle cx="108.6" cy="486.9" r="0.73" fill="#b4b4b4"/><circle cx="485.9" cy="485.5" r="0.88" fill="#707070"/><circle cx="673.0" cy="487.0" r="0.73" fill="#707070"/><circle cx="492.4" cy="460.9" r="1.12" fill="#333"/><circle cx="140.3" cy="464.9" r="0.82" fill="#b4b4b4"/><circle cx="139.0" cy="515.0" r="1.08" fill="#333"/><circle cx="135.7" cy="481.5" r="1.15" fill="#333"/><circle cx="119.8" cy="487.5" r="0.67" fill="#b4b4b4"/><circle cx="474.1" cy="493.5" r="0.85" fill="#707070"/><circle cx="473.4" cy="517.2" r="1.16" fill="#333"/><circle cx="335.5" cy="505.2" r="0.67" fill="#b4b4b4"/><circle cx="191.2" cy="475.6" r="0.72" fill="#707070"/><circle cx="75.7" cy="454.7" r="0.70" fill="#b4b4b4"/><circle cx="687.7" cy="449.7" r="1.01" fill="#333"/><circle cx="207.5" cy="444.4" r="1.22" fill="#333"/><circle cx="179.8" cy="466.7" r="0.66" fill="#b4b4b4"/><circle cx="124.3" cy="528.5" r="0.77" fill="#707070"/><circle cx="531.7" cy="490.0" r="0.83" fill="#707070"/><circle cx="121.6" cy="492.3" r="0.80" fill="#707070"/><circle cx="97.6" cy="460.7" r="0.82" fill="#b4b4b4"/><circle cx="653.8" cy="498.8" r="0.86" fill="#707070"/><circle cx="536.7" cy="452.2" r="0.88" fill="#707070"/><circle cx="173.1" cy="452.8" r="0.73" fill="#b4b4b4"/><circle cx="279.8" cy="480.4" r="0.78" fill="#b4b4b4"/><circle cx="574.1" cy="457.4" r="1.16" fill="#333"/><circle cx="378.5" cy="505.0" r="1.19" fill="#333"/><circle cx="494.7" cy="499.9" r="0.83" fill="#707070"/><circle cx="198.7" cy="494.5" r="0.79" fill="#707070"/><circle cx="473.5" cy="526.4" r="0.81" fill="#b4b4b4"/><circle cx="656.8" cy="477.0" r="0.70" fill="#707070"/><circle cx="655.8" cy="437.8" r="0.89" fill="#707070"/><circle cx="390.5" cy="509.8" r="0.79" fill="#707070"/><circle cx="139.9" cy="509.8" r="1.05" fill="#333"/><circle cx="195.6" cy="492.3" r="0.77" fill="#b4b4b4"/><circle cx="637.6" cy="465.7" r="0.87" fill="#707070"/><circle cx="481.0" cy="512.4" r="0.83" fill="#b4b4b4"/><circle cx="563.8" cy="441.4" r="0.76" fill="#707070"/><circle cx="322.8" cy="526.8" r="0.79" fill="#b4b4b4"/><circle cx="215.8" cy="516.7" r="0.84" fill="#707070"/><circle cx="261.5" cy="509.8" r="1.02" fill="#333"/><circle cx="83.2" cy="480.4" r="0.72" fill="#707070"/><circle cx="165.1" cy="527.2" r="0.74" fill="#707070"/><circle cx="518.9" cy="451.3" r="1.24" fill="#333"/><circle cx="169.7" cy="506.0" r="1.07" fill="#333"/><circle cx="479.3" cy="455.5" r="0.84" fill="#707070"/><circle cx="330.5" cy="479.3" r="1.03" fill="#333"/><circle cx="85.8" cy="508.7" r="1.15" fill="#333"/><circle cx="336.1" cy="522.8" r="0.84" fill="#b4b4b4"/><circle cx="518.7" cy="535.9" r="1.03" fill="#333"/><circle cx="595.6" cy="504.0" r="0.71" fill="#707070"/><circle cx="325.0" cy="530.8" r="0.77" fill="#707070"/><circle cx="268.2" cy="508.8" r="1.23" fill="#333"/><circle cx="178.8" cy="514.2" r="0.86" fill="#707070"/><circle cx="592.1" cy="501.4" r="0.90" fill="#707070"/><circle cx="485.7" cy="473.9" r="0.65" fill="#b4b4b4"/><circle cx="488.5" cy="453.1" r="0.84" fill="#707070"/><circle cx="79.9" cy="475.3" r="0.87" fill="#707070"/><circle cx="567.8" cy="478.5" r="1.21" fill="#333"/><circle cx="195.5" cy="463.4" r="0.89" fill="#707070"/><circle cx="520.7" cy="496.6" r="0.75" fill="#707070"/><circle cx="155.8" cy="505.1" r="0.88" fill="#707070"/><circle cx="186.5" cy="514.4" r="1.13" fill="#333"/><circle cx="546.6" cy="516.1" r="0.88" fill="#707070"/><circle cx="426.5" cy="484.0" r="0.77" fill="#707070"/><circle cx="167.8" cy="497.0" r="0.75" fill="#707070"/><circle cx="112.3" cy="533.6" r="1.02" fill="#333"/><circle cx="434.7" cy="483.7" r="0.86" fill="#707070"/><circle cx="579.0" cy="484.1" r="0.73" fill="#b4b4b4"/><circle cx="219.0" cy="512.6" r="1.20" fill="#333"/><circle cx="237.2" cy="514.0" r="1.25" fill="#333"/><circle cx="590.3" cy="526.8" r="0.70" fill="#b4b4b4"/><circle cx="320.3" cy="493.7" r="1.03" fill="#333"/><circle cx="441.9" cy="512.5" r="0.71" fill="#b4b4b4"/><circle cx="264.8" cy="485.8" r="0.86" fill="#707070"/><circle cx="184.3" cy="439.4" r="1.08" fill="#333"/><circle cx="224.9" cy="511.4" r="0.79" fill="#707070"/><circle cx="145.6" cy="464.9" r="0.68" fill="#b4b4b4"/><circle cx="251.1" cy="481.9" r="0.68" fill="#b4b4b4"/><circle cx="276.1" cy="510.8" r="0.77" fill="#707070"/><circle cx="601.2" cy="491.2" r="0.74" fill="#707070"/><circle cx="281.3" cy="525.2" r="0.84" fill="#b4b4b4"/><circle cx="455.2" cy="515.2" r="1.05" fill="#333"/><circle cx="226.7" cy="518.0" r="0.72" fill="#707070"/><circle cx="662.3" cy="446.5" r="0.87" fill="#707070"/><circle cx="543.9" cy="444.3" r="1.10" fill="#333"/><circle cx="568.1" cy="526.9" r="0.71" fill="#b4b4b4"/><circle cx="487.9" cy="518.8" r="1.10" fill="#333"/><circle cx="105.4" cy="474.0" r="0.85" fill="#707070"/><circle cx="542.3" cy="479.5" r="0.71" fill="#707070"/><circle cx="80.1" cy="515.9" r="0.82" fill="#707070"/><circle cx="621.7" cy="465.4" r="0.79" fill="#707070"/><circle cx="163.0" cy="431.1" r="1.10" fill="#333"/><circle cx="351.3" cy="523.3" r="1.22" fill="#333"/><circle cx="75.5" cy="493.4" r="0.70" fill="#b4b4b4"/><circle cx="637.0" cy="473.2" r="0.76" fill="#707070"/><circle cx="334.8" cy="480.7" r="0.77" fill="#707070"/><circle cx="148.0" cy="488.5" r="0.78" fill="#b4b4b4"/><circle cx="195.8" cy="533.6" r="0.88" fill="#707070"/><circle cx="464.4" cy="477.6" r="0.90" fill="#707070"/><circle cx="388.7" cy="479.2" r="0.71" fill="#707070"/><circle cx="570.2" cy="494.0" r="0.72" fill="#707070"/><circle cx="353.2" cy="515.2" r="0.71" fill="#b4b4b4"/><circle cx="509.9" cy="465.3" r="0.74" fill="#707070"/><circle cx="239.0" cy="484.4" r="0.73" fill="#707070"/><circle cx="334.2" cy="513.1" r="1.05" fill="#333"/><circle cx="256.3" cy="483.3" r="0.79" fill="#b4b4b4"/><circle cx="218.0" cy="445.1" r="1.14" fill="#333"/><circle cx="206.0" cy="454.1" r="0.74" fill="#707070"/><circle cx="455.2" cy="505.3" r="1.14" fill="#333"/><circle cx="580.1" cy="492.0" r="1.07" fill="#333"/><circle cx="107.2" cy="506.3" r="0.75" fill="#b4b4b4"/><circle cx="82.6" cy="493.3" r="0.71" fill="#b4b4b4"/><circle cx="200.9" cy="446.5" r="0.86" fill="#707070"/><circle cx="573.9" cy="472.8" r="0.80" fill="#707070"/><circle cx="470.6" cy="509.3" r="0.86" fill="#707070"/><circle cx="159.2" cy="442.2" r="0.74" fill="#707070"/><circle cx="142.1" cy="484.0" r="0.80" fill="#707070"/><circle cx="475.1" cy="464.4" r="0.77" fill="#707070"/><circle cx="120.6" cy="454.3" r="0.77" fill="#b4b4b4"/><circle cx="602.2" cy="522.4" r="1.02" fill="#333"/><circle cx="662.3" cy="497.0" r="0.85" fill="#b4b4b4"/><circle cx="205.4" cy="481.4" r="0.72" fill="#b4b4b4"/><circle cx="672.3" cy="515.5" r="0.69" fill="#b4b4b4"/><circle cx="110.4" cy="440.3" r="0.67" fill="#b4b4b4"/><circle cx="389.3" cy="514.5" r="0.88" fill="#707070"/><circle cx="401.9" cy="491.8" r="0.74" fill="#707070"/><circle cx="680.2" cy="452.5" r="1.20" fill="#333"/><circle cx="403.7" cy="517.4" r="0.74" fill="#707070"/><circle cx="545.7" cy="521.4" r="0.82" fill="#707070"/><circle cx="519.0" cy="480.8" r="0.85" fill="#707070"/><circle cx="88.4" cy="535.6" r="0.73" fill="#707070"/><circle cx="553.1" cy="511.5" r="0.79" fill="#707070"/><circle cx="445.7" cy="519.1" r="0.74" fill="#707070"/><circle cx="620.8" cy="480.6" r="0.73" fill="#b4b4b4"/><circle cx="134.0" cy="435.0" r="0.72" fill="#b4b4b4"/><circle cx="622.1" cy="521.5" r="0.84" fill="#b4b4b4"/><circle cx="673.9" cy="462.0" r="0.76" fill="#b4b4b4"/><circle cx="225.7" cy="463.3" r="0.66" fill="#b4b4b4"/><circle cx="404.2" cy="480.6" r="0.78" fill="#707070"/><circle cx="82.9" cy="512.2" r="1.11" fill="#333"/><circle cx="156.0" cy="472.6" r="0.86" fill="#707070"/><circle cx="181.4" cy="519.3" r="0.82" fill="#b4b4b4"/><circle cx="577.4" cy="455.2" r="0.79" fill="#707070"/><circle cx="155.2" cy="509.9" r="0.84" fill="#707070"/><circle cx="407.3" cy="489.8" r="0.84" fill="#707070"/><circle cx="378.7" cy="519.5" r="1.03" fill="#333"/><circle cx="283.4" cy="473.0" r="0.83" fill="#707070"/><circle cx="587.5" cy="457.8" r="0.88" fill="#707070"/><circle cx="109.9" cy="452.4" r="1.22" fill="#333"/><circle cx="634.7" cy="462.5" r="1.10" fill="#333"/><circle cx="462.3" cy="495.5" r="0.78" fill="#707070"/><circle cx="673.8" cy="529.7" r="0.86" fill="#707070"/><circle cx="664.5" cy="533.1" r="0.76" fill="#707070"/><circle cx="618.8" cy="506.1" r="0.87" fill="#707070"/><circle cx="146.6" cy="441.6" r="0.73" fill="#707070"/><circle cx="320.6" cy="479.0" r="0.71" fill="#707070"/><circle cx="354.1" cy="503.5" r="0.79" fill="#707070"/><circle cx="680.5" cy="516.9" r="0.82" fill="#707070"/><circle cx="328.2" cy="509.3" r="0.72" fill="#707070"/><circle cx="447.9" cy="522.4" r="1.21" fill="#333"/><circle cx="422.5" cy="498.6" r="0.72" fill="#b4b4b4"/><circle cx="205.0" cy="477.5" r="1.12" fill="#333"/><circle cx="559.9" cy="493.3" r="0.81" fill="#707070"/><circle cx="672.8" cy="492.4" r="0.84" fill="#b4b4b4"/><circle cx="679.0" cy="500.0" r="1.23" fill="#333"/><circle cx="524.7" cy="482.7" r="1.24" fill="#333"/><circle cx="576.4" cy="439.7" r="1.09" fill="#333"/><circle cx="309.4" cy="480.7" r="0.78" fill="#b4b4b4"/><circle cx="158.0" cy="516.2" r="0.85" fill="#707070"/><circle cx="594.7" cy="464.8" r="0.72" fill="#b4b4b4"/><circle cx="536.7" cy="506.2" r="0.80" fill="#b4b4b4"/><circle cx="360.1" cy="520.5" r="0.87" fill="#707070"/><circle cx="490.9" cy="502.4" r="0.78" fill="#707070"/><circle cx="598.2" cy="436.4" r="0.82" fill="#707070"/><circle cx="196.3" cy="478.2" r="0.83" fill="#b4b4b4"/><circle cx="159.4" cy="437.9" r="0.83" fill="#707070"/><circle cx="323.5" cy="501.5" r="0.79" fill="#b4b4b4"/><circle cx="516.6" cy="485.0" r="0.75" fill="#707070"/><circle cx="330.8" cy="497.8" r="0.79" fill="#707070"/><circle cx="250.3" cy="464.8" r="0.72" fill="#b4b4b4"/><circle cx="213.6" cy="523.0" r="0.87" fill="#707070"/><circle cx="436.0" cy="509.2" r="0.77" fill="#b4b4b4"/><circle cx="610.3" cy="483.3" r="0.67" fill="#b4b4b4"/><circle cx="87.4" cy="446.6" r="0.71" fill="#707070"/><circle cx="219.6" cy="466.5" r="0.81" fill="#b4b4b4"/><circle cx="510.1" cy="491.4" r="0.84" fill="#707070"/><circle cx="348.5" cy="495.2" r="0.75" fill="#707070"/><circle cx="306.6" cy="510.6" r="0.86" fill="#707070"/><circle cx="343.3" cy="499.5" r="0.70" fill="#b4b4b4"/><circle cx="644.9" cy="460.7" r="0.74" fill="#707070"/><circle cx="306.2" cy="516.7" r="0.72" fill="#707070"/><circle cx="662.3" cy="457.3" r="1.10" fill="#333"/><circle cx="317.9" cy="517.4" r="0.73" fill="#b4b4b4"/><circle cx="177.2" cy="469.4" r="0.67" fill="#b4b4b4"/><circle cx="91.2" cy="451.4" r="0.89" fill="#707070"/><circle cx="293.0" cy="505.1" r="0.67" fill="#b4b4b4"/><circle cx="163.6" cy="438.8" r="0.82" fill="#707070"/><circle cx="315.0" cy="469.5" r="0.82" fill="#707070"/><circle cx="201.6" cy="506.8" r="0.81" fill="#b4b4b4"/><circle cx="647.5" cy="515.7" r="0.78" fill="#707070"/><circle cx="648.5" cy="490.9" r="1.15" fill="#333"/><circle cx="655.4" cy="488.0" r="0.70" fill="#b4b4b4"/><circle cx="632.5" cy="473.4" r="1.18" fill="#333"/><circle cx="374.2" cy="488.8" r="1.21" fill="#333"/><circle cx="309.8" cy="487.0" r="0.75" fill="#707070"/><circle cx="160.8" cy="528.2" r="0.88" fill="#707070"/><circle cx="434.0" cy="469.4" r="0.81" fill="#b4b4b4"/><circle cx="159.0" cy="481.3" r="0.76" fill="#707070"/><circle cx="662.2" cy="493.0" r="0.76" fill="#707070"/><circle cx="541.2" cy="520.8" r="0.74" fill="#707070"/><circle cx="562.6" cy="503.6" r="0.69" fill="#b4b4b4"/><circle cx="343.3" cy="535.4" r="0.72" fill="#b4b4b4"/><circle cx="259.8" cy="452.9" r="1.15" fill="#333"/><circle cx="479.2" cy="469.5" r="0.89" fill="#707070"/><circle cx="282.5" cy="520.1" r="0.86" fill="#707070"/><circle cx="474.6" cy="506.6" r="0.80" fill="#b4b4b4"/><circle cx="90.0" cy="529.7" r="0.74" fill="#707070"/><circle cx="611.5" cy="486.9" r="0.77" fill="#707070"/><circle cx="598.1" cy="528.0" r="0.84" fill="#707070"/><circle cx="365.4" cy="517.3" r="0.80" fill="#b4b4b4"/><circle cx="539.8" cy="529.4" r="0.75" fill="#b4b4b4"/><circle cx="368.3" cy="492.6" r="0.83" fill="#b4b4b4"/><circle cx="85.9" cy="467.7" r="0.85" fill="#707070"/><circle cx="92.1" cy="526.3" r="1.13" fill="#333"/><circle cx="272.2" cy="459.1" r="0.77" fill="#707070"/><circle cx="411.1" cy="491.1" r="0.82" fill="#b4b4b4"/><circle cx="239.7" cy="535.4" r="0.70" fill="#b4b4b4"/><circle cx="422.3" cy="530.8" r="0.74" fill="#707070"/><circle cx="635.3" cy="483.6" r="0.82" fill="#707070"/><circle cx="448.8" cy="513.5" r="0.73" fill="#b4b4b4"/><circle cx="660.2" cy="486.8" r="0.79" fill="#b4b4b4"/><circle cx="500.1" cy="404.9" r="1.06" fill="#333"/><circle cx="190.8" cy="439.0" r="0.73" fill="#707070"/><circle cx="542.8" cy="463.1" r="0.73" fill="#707070"/><circle cx="146.7" cy="508.4" r="1.25" fill="#333"/><circle cx="620.3" cy="484.7" r="0.85" fill="#707070"/><circle cx="614.5" cy="436.4" r="0.80" fill="#b4b4b4"/><circle cx="556.1" cy="444.7" r="0.84" fill="#b4b4b4"/><circle cx="525.3" cy="487.9" r="0.72" fill="#707070"/><circle cx="604.7" cy="493.3" r="0.78" fill="#b4b4b4"/><circle cx="135.0" cy="501.8" r="0.80" fill="#b4b4b4"/><circle cx="406.5" cy="494.7" r="0.74" fill="#707070"/><circle cx="582.7" cy="528.2" r="0.75" fill="#707070"/><circle cx="619.4" cy="514.3" r="0.81" fill="#b4b4b4"/><circle cx="591.0" cy="506.1" r="1.02" fill="#333"/><circle cx="283.3" cy="510.0" r="0.71" fill="#707070"/><circle cx="569.5" cy="500.7" r="0.67" fill="#b4b4b4"/><circle cx="276.8" cy="532.1" r="0.88" fill="#707070"/><circle cx="174.7" cy="526.7" r="0.88" fill="#707070"/><circle cx="516.1" cy="532.1" r="0.73" fill="#707070"/><circle cx="589.9" cy="424.0" r="0.79" fill="#b4b4b4"/><circle cx="141.3" cy="477.1" r="0.82" fill="#707070"/><circle cx="134.9" cy="473.7" r="1.04" fill="#333"/><circle cx="662.8" cy="466.9" r="0.74" fill="#707070"/><circle cx="124.9" cy="477.0" r="0.82" fill="#b4b4b4"/><circle cx="87.7" cy="458.7" r="0.70" fill="#b4b4b4"/><circle cx="505.2" cy="480.8" r="0.71" fill="#707070"/><circle cx="468.5" cy="503.0" r="0.89" fill="#707070"/><circle cx="102.7" cy="441.6" r="0.74" fill="#b4b4b4"/><circle cx="320.8" cy="530.6" r="0.75" fill="#b4b4b4"/><circle cx="162.7" cy="509.3" r="1.08" fill="#333"/><circle cx="539.9" cy="473.8" r="0.75" fill="#b4b4b4"/><circle cx="638.8" cy="502.5" r="0.84" fill="#707070"/><circle cx="148.4" cy="536.0" r="0.73" fill="#707070"/><circle cx="350.3" cy="490.7" r="0.79" fill="#707070"/><circle cx="625.7" cy="532.4" r="0.77" fill="#b4b4b4"/><circle cx="212.1" cy="511.4" r="0.72" fill="#707070"/><circle cx="471.0" cy="459.8" r="1.06" fill="#333"/><circle cx="345.4" cy="481.9" r="0.72" fill="#707070"/><circle cx="665.5" cy="506.0" r="1.11" fill="#333"/><circle cx="169.3" cy="445.3" r="0.81" fill="#707070"/><circle cx="247.5" cy="506.4" r="0.71" fill="#b4b4b4"/><circle cx="611.8" cy="473.4" r="1.08" fill="#333"/><circle cx="631.1" cy="501.2" r="1.14" fill="#333"/><circle cx="176.0" cy="455.5" r="1.14" fill="#333"/><circle cx="164.4" cy="534.6" r="1.20" fill="#333"/><circle cx="549.5" cy="523.2" r="0.84" fill="#707070"/><circle cx="533.5" cy="519.7" r="0.90" fill="#707070"/><circle cx="582.8" cy="470.1" r="0.74" fill="#707070"/><circle cx="566.7" cy="474.1" r="0.79" fill="#707070"/><circle cx="648.0" cy="527.8" r="1.17" fill="#333"/><circle cx="130.5" cy="502.6" r="0.70" fill="#b4b4b4"/><circle cx="463.2" cy="511.0" r="1.11" fill="#333"/><circle cx="549.0" cy="452.2" r="0.80" fill="#707070"/><circle cx="456.7" cy="528.9" r="0.69" fill="#b4b4b4"/><circle cx="481.6" cy="401.1" r="1.20" fill="#333"/><circle cx="410.7" cy="533.5" r="0.72" fill="#b4b4b4"/><circle cx="513.5" cy="493.1" r="0.81" fill="#b4b4b4"/><circle cx="511.7" cy="487.4" r="0.76" fill="#707070"/><circle cx="226.2" cy="457.3" r="0.73" fill="#707070"/><circle cx="205.3" cy="493.0" r="0.88" fill="#707070"/><circle cx="209.2" cy="494.7" r="0.65" fill="#b4b4b4"/><circle cx="301.8" cy="492.3" r="0.75" fill="#707070"/><circle cx="296.1" cy="470.8" r="1.13" fill="#333"/><circle cx="603.5" cy="452.5" r="1.15" fill="#333"/><circle cx="567.9" cy="517.2" r="0.81" fill="#707070"/><circle cx="99.6" cy="473.1" r="0.67" fill="#b4b4b4"/><circle cx="76.9" cy="450.6" r="1.06" fill="#333"/><circle cx="523.8" cy="528.8" r="0.88" fill="#707070"/><circle cx="581.7" cy="498.5" r="0.83" fill="#707070"/><circle cx="187.3" cy="476.3" r="0.76" fill="#707070"/><circle cx="149.9" cy="504.8" r="0.78" fill="#b4b4b4"/><circle cx="165.9" cy="522.7" r="0.82" fill="#b4b4b4"/><circle cx="457.8" cy="533.5" r="0.70" fill="#b4b4b4"/><circle cx="200.0" cy="489.4" r="0.72" fill="#b4b4b4"/><circle cx="198.4" cy="512.5" r="0.72" fill="#707070"/><circle cx="449.1" cy="507.1" r="0.75" fill="#707070"/><circle cx="248.0" cy="522.9" r="0.71" fill="#b4b4b4"/><circle cx="93.1" cy="464.3" r="1.05" fill="#333"/><circle cx="232.9" cy="490.6" r="0.77" fill="#b4b4b4"/><circle cx="551.9" cy="527.9" r="0.76" fill="#707070"/><circle cx="463.0" cy="528.9" r="0.75" fill="#b4b4b4"/><circle cx="645.1" cy="502.3" r="0.76" fill="#b4b4b4"/><circle cx="598.6" cy="470.6" r="0.77" fill="#b4b4b4"/><circle cx="662.4" cy="453.5" r="0.72" fill="#707070"/><circle cx="92.2" cy="535.9" r="0.87" fill="#707070"/><circle cx="285.3" cy="498.3" r="0.80" fill="#b4b4b4"/><circle cx="685.6" cy="467.4" r="0.83" fill="#707070"/><circle cx="281.7" cy="459.4" r="0.75" fill="#707070"/><circle cx="233.1" cy="474.8" r="1.06" fill="#333"/><circle cx="632.5" cy="466.9" r="0.79" fill="#707070"/><circle cx="688.0" cy="470.6" r="0.79" fill="#707070"/><circle cx="603.6" cy="505.9" r="0.80" fill="#707070"/><circle cx="237.2" cy="456.9" r="0.84" fill="#707070"/><circle cx="326.3" cy="517.8" r="0.87" fill="#707070"/><circle cx="102.0" cy="459.2" r="0.88" fill="#707070"/><circle cx="233.3" cy="481.2" r="0.71" fill="#707070"/><circle cx="643.9" cy="495.2" r="1.13" fill="#333"/><circle cx="496.5" cy="404.2" r="0.76" fill="#707070"/><circle cx="215.2" cy="475.3" r="0.77" fill="#b4b4b4"/><circle cx="424.3" cy="512.7" r="0.78" fill="#b4b4b4"/><circle cx="468.4" cy="456.5" r="0.82" fill="#707070"/><circle cx="163.6" cy="473.1" r="0.72" fill="#707070"/><circle cx="424.3" cy="489.0" r="0.81" fill="#b4b4b4"/><circle cx="516.1" cy="455.1" r="0.68" fill="#b4b4b4"/><circle cx="393.0" cy="515.0" r="0.70" fill="#707070"/><circle cx="278.8" cy="520.8" r="0.80" fill="#707070"/>
<line x1="74.5" y1="536.9" x2="689.6" y2="536.9" stroke="#bababa" stroke-width="1.1"/>
<line x1="74.5" y1="443.6" x2="74.5" y2="537.4" stroke="#8a8a8a" stroke-width="1.1"/>
<line x1="689.6" y1="444.2" x2="689.6" y2="537.4" stroke="#9a9a9a" stroke-width="1.1"/>
<polygon points="164.3,271.6 435.6,231.2 621.3,271.2 621.3,431.0 350.7,473.8 164.3,430.8" fill="#fff"/>
<polygon points="191.2,409.9 435.6,374.3 588.6,406.4 588.6,422.7 350.6,461.3 191.2,426.7" fill="#c6c6c6"/>
<line x1="74.5" y1="443.6" x2="112" y2="438.2" stroke="#808080" stroke-width="1.1"/>
<polyline points="111,438.33 435.6,391.2 689.6,444.2" fill="none" stroke="#262626" stroke-width="1.1"/>
<line x1="494" y1="387.4" x2="555" y2="400.2" stroke="#777" stroke-width="1.3"/>
<line x1="164.2" y1="271.6" x2="164.2" y2="430.8" stroke="#999" stroke-width="1.5"/>
<line x1="350.7" y1="313.8" x2="350.7" y2="473.8" stroke="#7a7a7a" stroke-width="1.4"/>
<line x1="621.5" y1="271.2" x2="621.5" y2="431.0" stroke="#666" stroke-width="1.3"/>
<polyline points="164.3,430.8 350.7,473.8 621.3,431.0" fill="none" stroke="#333" stroke-width="1.1"/>
<polygon points="164.3,271.6 435.6,231.2 621.3,271.2 350.7,313.8" fill="#eeeeee" stroke="#3a3a3a" stroke-width="1.1" stroke-linejoin="round"/>
<path d="M198,273 L400,243 Q436,237.3 480,247.3 L587.5,269.5 L352,307.3 Q349.5,307.8 347,307.2 Z" fill="#fff" stroke="#3a3a3a" stroke-width="1.1"/>
<line x1="435.6" y1="240.6" x2="435.6" y2="391.2" stroke="#7a7a7a" stroke-width="1.3"/>
<clipPath id="gc"><polygon points="515,82 613.5,72.5 613.5,268.2 515.5,283.2"/></clipPath>
<polygon points="515,82 613.5,72.5 613.5,268.2 515.5,283.2" fill="rgba(136,194,204,0.6)"/>
<g clip-path="url(#gc)" stroke="#93b9bf" stroke-width="1.4" fill="none"><line x1="435.6" y1="231.2" x2="621.3" y2="271.2"/><line x1="480" y1="247.3" x2="592" y2="271.2"/></g>
<polygon points="515,82 613.5,72.5 613.5,268.2 515.5,283.2" fill="none" stroke="#0d0d0d" stroke-width="3" stroke-linejoin="miter"/>
<line x1="220" y1="139.7" x2="220" y2="306" stroke="#444" stroke-width="1.35"/>
<line x1="300.1" y1="191.2" x2="300.1" y2="318" stroke="#444" stroke-width="1.35"/>
<polyline points="108.1,335.7 201.3,327" fill="none" stroke="#333" stroke-width="1.3"/>
<polyline points="238.2,323.2 287.9,318 311.8,316.5" fill="none" stroke="#3a3a3a" stroke-width="1.25"/>
<line x1="220.8" y1="173.6" x2="435" y2="154.1" stroke="#1a1a1a" stroke-width="1.1"/><polygon points="220.8,173.6 231.4,169.2 232.1,176.0" fill="#111"/><polygon points="435.0,154.1 424.4,158.5 423.7,151.7" fill="#111"/>
<line x1="300.8" y1="212.4" x2="435" y2="197.3" stroke="#1a1a1a" stroke-width="1.1"/><polygon points="300.8,212.4 311.4,207.8 312.1,214.5" fill="#111"/><polygon points="435.0,197.3 424.4,201.9 423.7,195.2" fill="#111"/>
<line x1="134" y1="333.6" x2="134" y2="434.3" stroke="#1a1a1a" stroke-width="1.1"/><polygon points="134.0,333.6 137.4,344.6 130.6,344.6" fill="#111"/><polygon points="134.0,434.3 130.6,423.3 137.4,423.3" fill="#111"/>
<line x1="134.2" y1="435.6" x2="212.9" y2="454.3" stroke="#1a1a1a" stroke-width="1.1"/><polygon points="134.2,435.6 145.7,434.8 144.1,441.5" fill="#111"/><polygon points="212.9,454.3 201.4,455.1 203.0,448.4" fill="#111"/>
<line x1="638.4" y1="434.4" x2="569.9" y2="446.9" stroke="#1a1a1a" stroke-width="1.1"/><polygon points="638.4,434.4 628.2,439.7 627.0,433.0" fill="#111"/><polygon points="569.9,446.9 580.1,441.6 581.3,448.3" fill="#111"/>
<line x1="501" y1="388.6" x2="501" y2="404.3" stroke="#1a1a1a" stroke-width="1.1"/><polygon points="501.0,388.6 502.9,396.0 499.1,396.0" fill="#111"/><polygon points="501.0,404.3 499.1,396.9 502.9,396.9" fill="#111"/>
<ellipse cx="448.6" cy="420.7" rx="37.5" ry="12.6" fill="#5a5a5a"/>
<ellipse cx="448.6" cy="420.5" rx="13.9" ry="4.6" fill="#fff"/>
<line x1="212.9" y1="454.3" x2="448.6" y2="420.7" stroke="#111" stroke-width="1.1"/>
<line x1="448.6" y1="420.7" x2="592.5" y2="451.6" stroke="#111" stroke-width="1.1"/>
<circle cx="287.9" cy="318" r="5.8" fill="#7c7c7c" stroke="#555" stroke-width="0.8"/>
<circle cx="311.8" cy="316.5" r="5.8" fill="#7c7c7c" stroke="#555" stroke-width="0.8"/>
<polygon points="201.5,310.2 238.6,303.5 238.6,340.2 201.5,345.8" fill="#8c8c8c" stroke="#333" stroke-width="1"/>
<path d="M218,312.4 L218,316.5 A2.1,2.1 0 0 0 222.2,316.5 L222.2,312.4 A13.4,13.8 0 0 1 222.2,339.6 L222.2,336.7 A2.1,2.1 0 0 0 218,336.7 L218,339.6 A13.4,13.8 0 0 1 218,312.4 Z" fill="#fff" stroke="#222" stroke-width="1.1"/>
<circle cx="214.2" cy="327" r="2.4" fill="#000"/><circle cx="226.1" cy="326.4" r="2.4" fill="#000"/>
<text x="301.9" y="159.1" font-size="16" fill="#222" stroke="#222" stroke-width="0.3" >105 cm</text>
<text x="343.5" y="199.9" font-size="16" fill="#222" stroke="#222" stroke-width="0.3" >85 cm</text>
<text x="81.8" y="387.9" font-size="16" fill="#222" stroke="#222" stroke-width="0.3" >40 cm</text>
<text x="124.1" y="461.2" font-size="16" fill="#222" stroke="#222" stroke-width="0.3" >38 cm</text>
<text x="609.8" y="457.3" font-size="16" fill="#222" stroke="#222" stroke-width="0.3" >23 cm</text>
<text transform="translate(511.6,405.2) rotate(10.4) skewX(-8)" font-size="15.1" fill="#222" stroke="#222" stroke-width="0.3">0-6 cm</text>
<circle cx="276.9" cy="350" r="19.1" fill="#000"/><g stroke="#fff" stroke-width="1.7" stroke-linecap="round"><line x1="268.60" y1="345.10" x2="268.60" y2="340.20"/><line x1="268.60" y1="345.10" x2="273.85" y2="344.36"/><line x1="268.60" y1="345.10" x2="263.35" y2="344.36"/><line x1="268.60" y1="345.10" x2="271.60" y2="349.23"/><line x1="268.60" y1="345.10" x2="265.60" y2="349.23"/></g><path d="M279.2,344.4 L283.3,340.7 L283.3,359.7" fill="none" stroke="#fff" stroke-width="2.4" stroke-linejoin="miter"/>
<circle cx="323.2" cy="344.4" r="19.1" fill="#000"/><g stroke="#fff" stroke-width="1.7" stroke-linecap="round"><line x1="314.90" y1="339.50" x2="314.90" y2="334.60"/><line x1="314.90" y1="339.50" x2="320.15" y2="338.76"/><line x1="314.90" y1="339.50" x2="309.65" y2="338.76"/><line x1="314.90" y1="339.50" x2="317.90" y2="343.63"/><line x1="314.90" y1="339.50" x2="311.90" y2="343.63"/></g><text x="320.4" y="354.1" font-size="26.8" fill="#fff">2</text>
<circle cx="486.0" cy="369.3" r="19.1" fill="#000"/><g stroke="#fff" stroke-width="1.7" stroke-linecap="round"><line x1="477.70" y1="364.40" x2="477.70" y2="359.50"/><line x1="477.70" y1="364.40" x2="482.95" y2="363.66"/><line x1="477.70" y1="364.40" x2="472.45" y2="363.66"/><line x1="477.70" y1="364.40" x2="480.70" y2="368.53"/><line x1="477.70" y1="364.40" x2="474.70" y2="368.53"/></g><text x="483.2" y="379.0" font-size="26.8" fill="#fff">3</text>
<circle cx="447.9" cy="451.9" r="18.9" fill="#000"/><g stroke="#fff" stroke-width="1.7" stroke-linecap="round"><line x1="439.60" y1="447.00" x2="439.60" y2="442.10"/><line x1="439.60" y1="447.00" x2="444.85" y2="446.26"/><line x1="439.60" y1="447.00" x2="434.35" y2="446.26"/><line x1="439.60" y1="447.00" x2="442.60" y2="451.13"/><line x1="439.60" y1="447.00" x2="436.60" y2="451.13"/></g><text x="445.1" y="461.6" font-size="26.8" fill="#fff">4</text>
<circle cx="190.9" cy="356.7" r="19.1" fill="#000"/><g stroke="#fff" stroke-width="1.7" stroke-linecap="round"><line x1="182.60" y1="351.80" x2="182.60" y2="346.90"/><line x1="182.60" y1="351.80" x2="187.85" y2="351.06"/><line x1="182.60" y1="351.80" x2="177.35" y2="351.06"/><line x1="182.60" y1="351.80" x2="185.60" y2="355.93"/><line x1="182.60" y1="351.80" x2="179.60" y2="355.93"/></g><text x="188.1" y="366.4" font-size="26.8" fill="#fff">5</text>
<text x="701.5" y="570.6" font-size="24.6" fill="#c0283a" stroke="#c0283a" stroke-width="0.4" textLength="25.5" lengthAdjust="spacingAndGlyphs">S2</text>
</svg>
</body></html>
